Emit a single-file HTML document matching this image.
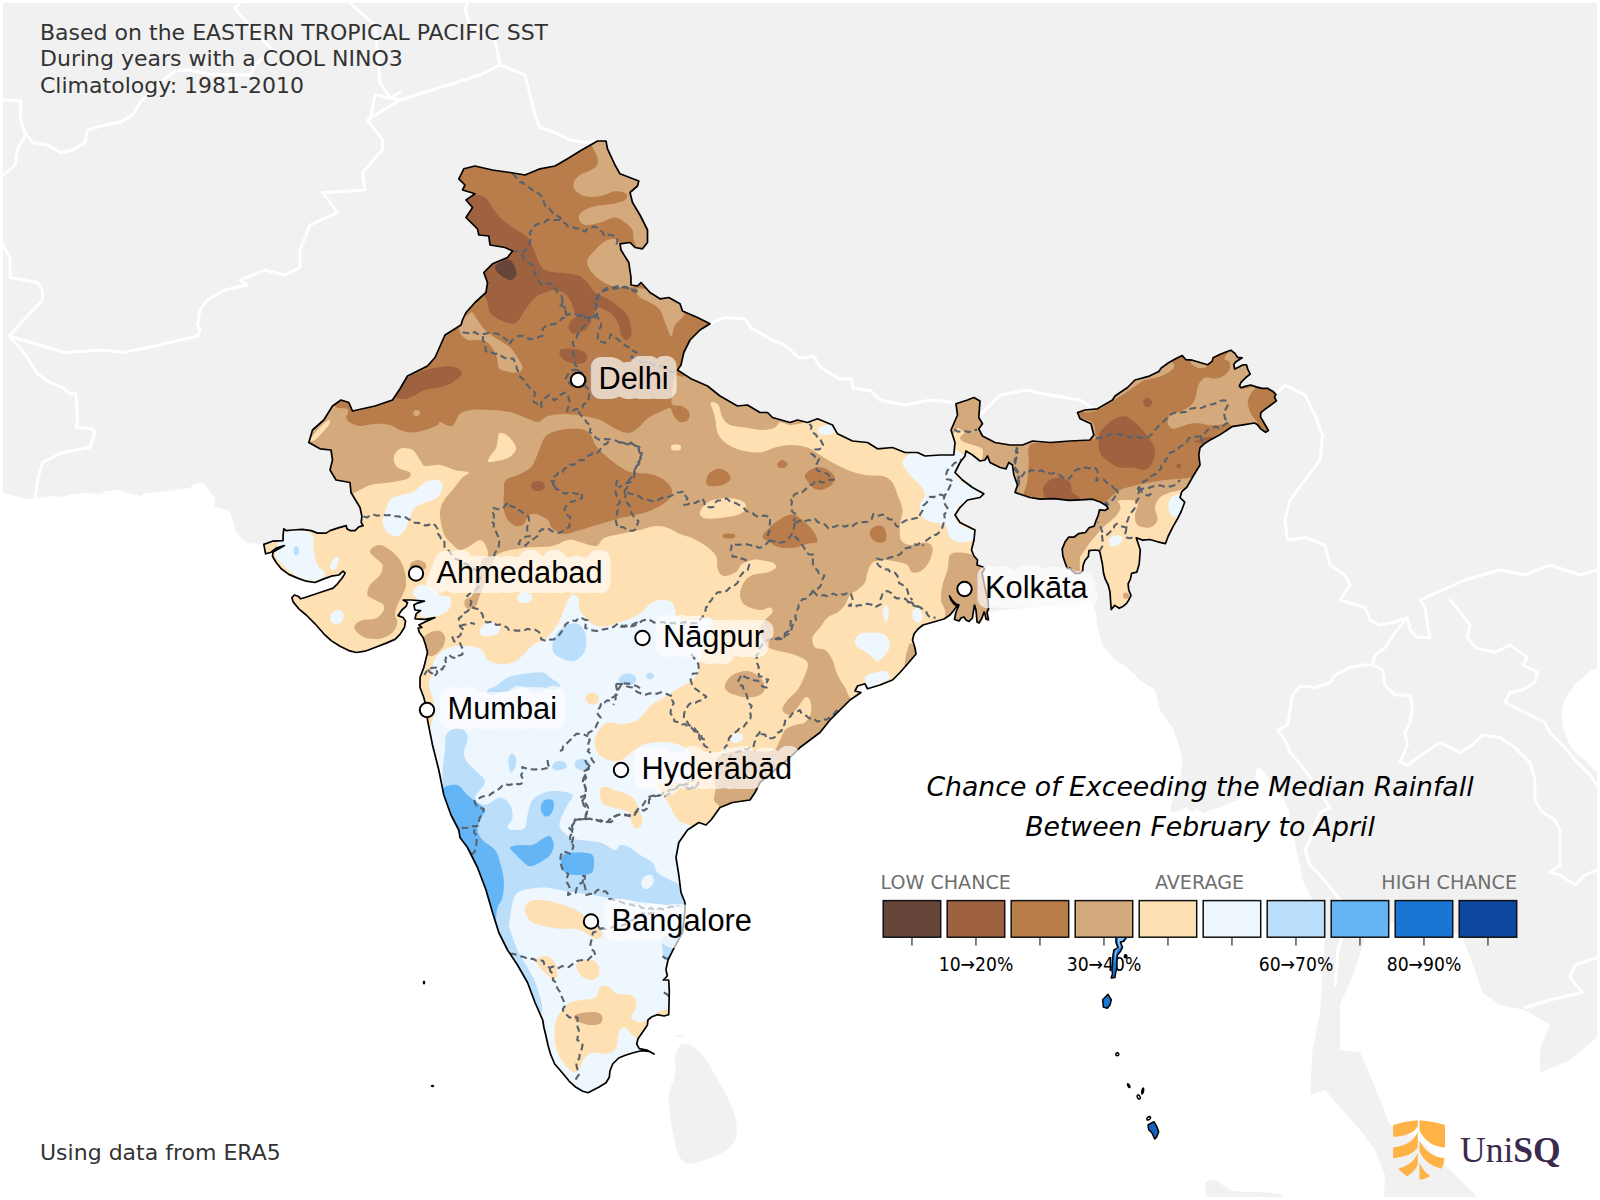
<!DOCTYPE html><html><head><meta charset="utf-8"><title>Chance of Exceeding the Median Rainfall</title>
<style>html,body{margin:0;padding:0;background:#fff}svg{display:block}text{font-family:"DejaVu Sans","Liberation Sans",sans-serif}.city{font-family:"DejaVu Sans","Liberation Sans",sans-serif;font-size:27px;fill:#000}</style></head><body>
<svg width="1600" height="1200" viewBox="0 0 1600 1200">
<defs><clipPath id="ic"><path d="M463.8 168.8 L475 166 L492.5 170 L510 172.5 L525 175 L540 168.8 L555 166 L567.5 158.8 L580 151 L597.5 141 L606 141 L607.5 148.8 L615 165 L620 173.8 L638.8 181 L637.5 186 L630 192.5 L632.5 202.5 L640 215 L643.8 222.5 L647.5 230 L647.5 242.5 L642.5 248.8 L635 247.5 L630 242.5 L620 243.8 L621 250 L628.8 262.5 L631 277.5 L631 285 L637.5 286 L641 282.5 L650 292.5 L660 298.8 L668.8 297.5 L680 303.8 L682.5 311 L697.5 317.5 L710 323.8 L700 330 L690 340 L683.8 352.5 L681 365 L677.5 370 L691 378.8 L707.5 386 L720 396 L737.5 406 L747.5 405 L760 412.5 L767.5 412.5 L772.5 417.5 L790 422.5 L797.5 420 L807.5 422.5 L817.5 418.8 L832.5 425 L837.5 433.8 L852.5 441 L867.5 442.5 L877.5 448.8 L892.5 447.5 L905 452.5 L917.5 452.5 L925 456 L940 455 L953.8 455 L955 442.5 L951 430 L957.5 415 L956 403.8 L967.5 400 L973.8 397.5 L980 401 L978.8 417.5 L982.5 423.8 L978.8 428.8 L982.5 436 L995 442.5 L1010 445 L1022.5 445 L1032.5 441 L1050 442.5 L1070 441 L1090 440 L1093.8 435 L1091 423.8 L1080 418.8 L1077.5 412.5 L1085 410 L1097.5 408.8 L1112.5 400 L1115 396 L1127.5 387.5 L1135 380 L1149.4 376.1 L1158.8 371.4 L1161.1 368.1 L1168.1 363 L1175.6 358.8 L1182.2 355.5 L1185.9 359.7 L1192.5 360.2 L1200 362.5 L1207.5 364.8 L1212.2 361.1 L1213.1 357.8 L1219.7 354.5 L1225.3 352.2 L1230.9 350.3 L1234.7 353.1 L1237.5 357.3 L1242.2 357.8 L1235.6 362 L1233.8 364.4 L1234.7 369.1 L1238.4 367.2 L1243.1 364.8 L1246.4 364.8 L1247.8 369.1 L1250.2 374.2 L1245.9 377.5 L1241.2 382.2 L1239.4 385.9 L1241.2 387.8 L1245 386.4 L1250.6 385 L1256.2 386.9 L1261.9 388.3 L1267.5 388.3 L1273.1 391.6 L1275.9 394.4 L1274.5 397.2 L1276.4 400.9 L1271.2 404.7 L1265.6 408.9 L1260.9 412.7 L1260.5 416.9 L1263.8 422.5 L1268.4 430.5 L1265.6 432.3 L1260.9 429.1 L1257.2 424.4 L1254.4 423 L1243.1 424.8 L1231.9 426.7 L1227.2 430 L1219.7 434.7 L1211.2 439.4 L1203.8 444.1 L1200 447.8 L1198.8 455 L1200 465 L1193.8 475 L1187 487 L1181.8 491.7 L1180 497.5 L1184.7 502.2 L1181.2 511.5 L1177.7 518.5 L1173 526.7 L1168.3 536 L1165.4 543.6 L1157.8 541.8 L1149.7 539.5 L1142.7 540.1 L1136.2 537.8 L1138 543 L1140.3 550 L1139.2 564 L1136.8 572.2 L1131.6 573.3 L1130.4 579.2 L1128.1 583.8 L1128.7 589.7 L1131 595.5 L1128.7 600.2 L1126.3 603.7 L1122.8 606.6 L1119.3 608.3 L1114.7 605.4 L1111.2 609.5 L1110.6 601.3 L1110 592 L1108.2 585 L1105.3 579.2 L1103.6 573.3 L1102.4 564 L1100.7 555.8 L1099.5 550.6 L1094.8 550 L1089 550.6 L1088.4 556.4 L1084.9 560.5 L1083.2 565.2 L1082.6 571 L1079.7 573.3 L1075 573.3 L1071.5 569.8 L1069.8 568.1 L1067.4 568.7 L1065.1 562.8 L1062.8 555.8 L1062.2 548.8 L1065.1 541.8 L1068.6 537.2 L1073.8 537.2 L1078.5 533.7 L1085.5 532.5 L1089 527.8 L1094.2 526.1 L1096 520.8 L1098.3 515 L1099.5 509.8 L1105.3 510.3 L1108.2 508.6 L1106.5 505.7 L1100.7 502.2 L1092.5 499.2 L1080.8 499.8 L1069.2 500.4 L1054 498.7 L1040 499.2 L1030 497.5 L1015 492.5 L1017.5 485 L1013.8 475 L1012.5 465 L1008.8 462.5 L1006 468.8 L1000 467.5 L990 462.5 L987.5 456 L985 460 L980 461 L972.5 455 L966 451 L965 456 L960 462.5 L955 472.5 L962.5 480 L972.5 487.5 L983.8 493.8 L980 497.5 L967.5 500 L960 507.5 L955 515 L960 522.5 L975 530 L974 540 L971.5 550 L974 556 L977.5 560 L977 565 L983 567 L984.5 569 L982 573 L985 588 L988 600 L988.5 609 L987 612 L988.5 620 L986 619 L985 614 L984 612 L982 618 L979 623 L977 622 L976 610 L974.5 605 L973 614 L972.5 618 L969 621.5 L966 620 L964 617 L961 618 L959 621 L954.5 619.5 L956 612 L959 605 L956 604 L952 600 L949.5 596 L951 600 L954 604 L957 606 L954 610 L950 615 L944 619 L937 621 L930 623 L923 625 L918 629 L914 634 L912.5 640 L915 648 L916 654 L908.8 662.5 L900 672.5 L892.5 680 L880 685 L867.5 688.8 L865 683.8 L857.5 686 L855 691 L861 692.5 L850 700 L840 710 L830 720 L820 732.5 L810 740 L800 747.5 L790 757.5 L775 770 L760 782.5 L755 792.5 L750 800 L732.5 802.5 L720 807.5 L711 820 L706 825 L698.8 822.5 L687.5 830 L678.8 842.5 L676 857.5 L678.8 875 L681 892.5 L685 902.5 L685 910 L682.5 932.5 L673.3 949.3 L668 960 L666 969.3 L667.3 976 L663.3 980 L668.7 980 L669.3 990.7 L669 1004 L668.7 1014.7 L664 1016 L657.3 1014.7 L652 1016.7 L648 1020 L647.3 1025.3 L642.7 1032 L638 1038.7 L636.7 1044 L639.3 1048.7 L646.7 1050 L654 1054 L649.3 1051.3 L641.3 1050.7 L633.3 1052.7 L625.3 1055.3 L618.7 1058 L612.7 1064 L610 1070.7 L609.3 1077.3 L606 1082.7 L598.7 1087.3 L593.3 1090 L588 1092.7 L582.7 1091.3 L576 1087.3 L569.3 1081.3 L562.7 1073.3 L554.7 1064 L550.7 1054.7 L548 1045.3 L546 1036 L544 1028 L542.7 1020 L535 1002.5 L527.5 982.5 L517.5 965 L507.5 950 L498.8 932.5 L492.5 912.5 L486 890 L477.5 867.5 L467.5 847.5 L460 837.5 L458.8 830 L451 815 L443.8 795 L438.8 770 L432.5 745 L427.5 720 L427 710 L423.8 697.5 L420 687.5 L420 677.5 L423.8 667.5 L427.5 652.5 L425.6 645 L423.1 637.5 L419.4 632.5 L418.1 628.1 L421.9 627.5 L418.8 625 L425 621.9 L435 617.5 L425 619.4 L415 618.8 L416.2 613.8 L420.6 610.6 L415 610 L413.8 605 L417.5 603.1 L424.4 601.2 L411.2 600 L403.1 600 L407.5 602.5 L406.2 606.2 L401.9 610 L398.1 615.6 L403.1 617.5 L405.6 621.2 L404.4 627.5 L400 634.4 L395 639.4 L386.2 643.1 L375 647.5 L365 651.2 L356.2 652.5 L348.8 650.6 L340 646.2 L331.2 640.6 L323.8 633.8 L315 623.8 L306.2 615 L298.8 608.8 L293.1 601.9 L291.9 597.5 L294.4 595 L298.1 596.2 L300.6 598.8 L305 597.5 L312.5 595 L320 592.5 L327.5 590 L333.1 588.1 L337.5 583.8 L342.5 577.5 L345.2 573.1 L343.1 571.2 L338.8 575 L331.2 576.2 L322.5 579.4 L315 582.5 L306.2 581.2 L297.5 578.1 L288.8 574.4 L281.2 568.8 L276.2 562.5 L272.5 556.2 L273.1 551.9 L278.8 548.8 L284.4 545.6 L276.2 548.1 L270.6 552.5 L265.6 553.8 L263.8 544.4 L272.5 541.2 L283.1 540.6 L283.1 535 L283.8 528.8 L286.2 530.6 L292.5 530 L302.5 529.4 L311.2 530.6 L317.5 533.1 L326.2 533.1 L330 530.6 L337.5 528.1 L346.2 525.6 L346.9 528.8 L350 530.6 L355 530.6 L358.8 526.9 L363.1 525.6 L361.2 522.5 L361.9 516.2 L360 507.5 L351 492.5 L350 482.5 L336 480 L330 470 L332.5 460 L331 450 L320 448.8 L308.8 442.5 L312.5 430 L323.8 420 L332.5 406 L341 400 L348.8 402.5 L352.5 411 L375 406 L392.5 400 L400 388.8 L407.5 376 L427.5 366 L435 357.5 L445 335 L461 325 L462.5 320 L466 312.5 L475 302.5 L486 292.5 L487.5 282.5 L483.8 272.5 L492.5 263.8 L507.5 257.5 L512.5 251 L505 247.5 L490 245 L488.8 236 L478.8 235 L477.5 228.8 L466 217.5 L472.5 207.5 L466 200 L475 193.8 L462.5 190 L465 185 L458.8 178.8Z"/></clipPath></defs>
<rect width="1600" height="1200" fill="#fff"/>
<g fill="#f1f1f1">
<path d="M0 0 L1600 0 L1600 1035 L1570 1060 L1540 1072.5 L1540 1050 L1550 1025 L1525 1010 L1500 1005 L1482.5 992.5 L1475 970 L1462.5 937.5 L1440 925 L1400 922 L1375 925 L1365 937.5 L1355 970 L1340 1005 L1340 1050 L1360 1052.5 L1370 1075 L1380 1100 L1390 1125 L1425 1145 L1450 1170 L1480 1200 L1384 1200 L1385 1175 L1375 1150 L1360 1130 L1340 1107.5 L1325 1090 L1310 1095 L1312.5 1050 L1320 1012.5 L1322.5 975 L1325 937.5 L1315 905 L1302.5 880 L1300 865 L1296 848.8 L1293.8 836 L1290 822.5 L1288.8 810 L1283.8 800 L1277.5 790 L1270 780 L1262.5 770 L1257.5 767.5 L1255 777.5 L1248.8 788.8 L1242.5 797.5 L1235 801 L1227.5 803.8 L1220 807.5 L1210 810 L1205 813.8 L1196 808.8 L1192.5 812.5 L1186 807.5 L1177.5 811 L1170 812.5 L1172.5 800 L1177.5 786 L1181 774 L1182.5 761 L1178.8 745 L1173.8 730 L1160 710 L1155 690 L1140 680 L1127.5 667.5 L1115 660 L1102.5 645 L1097.5 627.5 L1096 612.5 L1092.5 603.8 L1062.5 605 L1032.5 607.5 L1000 610 L987.5 612.5 L900 620 L600 650 L430 575 L300 540 L266 545 L260 544 L248 543 L242 539 L236 532 L233 522 L230 512 L224 509 L214 507 L215 498 L210 492 L206 485 L200 482.4 L194 484 L190 488 L176 490 L160 492 L146 493 L140 496 L128 493 L120 490 L106 491 L100 494 L86 493 L72 494 L62 497 L54 496 L40 498 L28 499 L3 493 L0 493Z"/>
<path d="M679 1047C679.8 1046 680.2 1044.3 682 1044C683.8 1043.7 686.6 1043.2 690 1045C693.4 1046.8 698.3 1050 702.5 1055C706.7 1060 710.8 1067.9 715 1075C719.2 1082.1 724 1090 727.5 1097.5C731 1105 734.8 1112.9 736 1120C737.2 1127.1 737.2 1134.6 735 1140C732.8 1145.4 727.5 1149.2 722.5 1152.5C717.5 1155.8 710.4 1158.1 705 1160C699.6 1161.9 694.2 1164.2 690 1163.8C685.8 1163.3 682.7 1161.9 680 1157.5C677.3 1153.1 675.4 1145 673.8 1137.5C672.1 1130 670.8 1119.6 670 1112.5C669.2 1105.4 667.9 1101.2 668.8 1095C669.6 1088.8 674 1080.8 675 1075C676 1069.2 674.6 1064.2 675 1060C675.4 1055.8 676.8 1052.2 677.5 1050C678.2 1047.8 678.2 1048 679 1047Z"/>
<path d="M1206 1200 L1205 1183 L1209 1180 L1216 1180 L1224 1186 L1232 1191 L1245 1192 L1258 1192 L1270 1193 L1280 1194 L1286 1200Z"/>
<path d="M676 1034.5 L683 1035.5 L683 1037 L676 1036.5Z"/>
</g>
<path d="M1600 675C1596.7 660.8 1585.8 675.8 1580 680C1574.2 684.2 1568 693.3 1565 700C1562 706.7 1561.2 712.5 1562 720C1562.8 727.5 1566.2 738.3 1570 745C1573.8 751.7 1580 756.7 1585 760C1590 763.3 1597.5 779.2 1600 765C1602.5 750.8 1603.3 689.2 1600 675Z" fill="#fff"/>
<g fill="none" stroke="#fff" stroke-width="2.9" stroke-linejoin="round" stroke-linecap="round">
<path d="M3 100 L21 101 L20 117.5 L25 132.5 L32.5 142.5 L47.5 145 L60 152.5 L72.5 150 L85 142.5 L87.5 130 L105 125 L120 122.5 L132.5 115 L140 102.5 L155 87 L175 71 L190 70 L207.5 74 L250 75 L255 65 L272.5 50 L265 42.5 L240 15 L235 7.5 L240 3"/>
<path d="M25 135 L17.5 150 L15 165 L3 175"/>
<path d="M3 245 L10 257.5 L10 277.5 L37.5 282.5 L42.5 290 L42.5 300 L8.8 336 L65 352.5 L102.5 350 L122.5 352.5 L155 346 L197.5 336 L200 330 L197.5 325 L200 310 L207.5 300 L225 290 L247.5 285 L240 280 L265 270 L285 275 L300 267.5 L300 250 L310 225 L337.5 212.5 L322.5 192.5 L365 190 L362.5 172.5 L382.5 150 L382.5 140 L367.5 120 L387.5 107.5 L400 100 L375 95 L370 120"/>
<path d="M8.8 336 L25 353.8 L37.5 373.8 L50 382.5 L62.5 387.5 L70 393.8 L76 393.8 L77.5 420 L76 427.5 L92.5 428.8 L95 432.5 L90 447.5 L62.5 452.5 L42.5 462.5 L37.5 480 L35 497.5"/>
<path d="M400 100 L480 75 L500 65 L495 40 L470 25 L465 10 L467 3"/>
<path d="M350 3 L375 25 L380 82.5 L390 97.5 L400 92.5"/>
<path d="M500 65 L525 75 L535 115 L540 127.5 L555 132.5 L570 140 L585 142.5 L597.5 141"/>
<path d="M710 324 L716 321 L724 317.5 L745 319 L751 328 L772 340 L784 344.5 L799 358 L814 356.5 L820 367 L839.5 379 L851.5 379 L853 388 L871 391 L880 400 L905 405 L930 400 L955 402.5"/>
<path d="M980 415 L1000 395 L1025 390 L1050 395 L1080 400 L1095 410"/>
<path d="M1275 395 L1285 385 L1305 395 L1315 415 L1322.5 435 L1320 460 L1305 480 L1290 500 L1285 520 L1287.5 540 L1305 537.5 L1325 545 L1330 565 L1345 575 L1350 585 L1340 600 L1365 607.5 L1370 620 L1380 625 L1395 622 L1407.5 617.5"/>
<path d="M1420 600 L1465 580 L1500 570 L1525 575 L1550 565 L1580 575 L1597 570"/>
<path d="M1407.5 617.5 L1410 630 L1417.5 637.5 L1430 637.5 L1427.5 625 L1425 607.5 L1420 600"/>
<path d="M1407.5 617.5 L1395 632.5 L1385 647.5 L1375 655 L1372.5 665 L1362.5 665 L1350 667.5 L1335 675 L1330 682.5 L1315 687.5 L1300 686 L1292.5 695 L1290 710 L1287.5 725 L1277.5 730 L1285 740 L1290 752.5 L1305 770 L1315 785 L1325 800 L1330 807.5 L1320 812.5 L1315 825 L1310 840 L1305 850 L1310 865 L1320 875 L1330 887.5 L1340 900 L1345 925 L1338 950 L1335 985"/>
<path d="M1372.5 665 L1382.5 670 L1385 685 L1395 695 L1410 695 L1412.5 707.5 L1410 722.5 L1405 732.5 L1407.5 745 L1400 762.5 L1407.5 765 L1425 752.5 L1440 742.5 L1460 752.5 L1472.5 745 L1482.5 735 L1500 737.5 L1515 747.5 L1530 762.5 L1535 780 L1535 800 L1542.5 812.5 L1555 820 L1560 830 L1560 850 L1560 865 L1550 872.5 L1560 875 L1575 885 L1585 875 L1597 870"/>
<path d="M1450 600 L1462.5 615 L1470 625 L1467.5 637.5 L1475 647.5 L1495 652.5 L1510 645 L1527.5 657.5 L1522.5 665 L1537.5 672.5 L1535 682.5 L1522.5 690 L1510 692.5 L1505 702.5 L1525 712.5 L1545 722.5 L1550 732.5 L1562.5 745 L1575 760 L1590 775 L1597 785"/>
<path d="M1597.5 957.5 L1575 965 L1570 977.5 L1582.5 992.5 L1550 1000 L1525 1007.5"/>
</g>
<g clip-path="url(#ic)">
<rect x="250" y="130" width="1040" height="980" fill="#ffe0b2"/>
<path d="M410 672C414.3 667.7 422 676 426 674C430 672 431 664 434 660C437 656 440.3 652.3 444 650C447.7 647.7 451.7 646.7 456 646C460.3 645.3 465.7 645.3 470 646C474.3 646.7 479 647.7 482 650C485 652.3 485 657.7 488 660C491 662.3 495.7 663.7 500 664C504.3 664.3 510 663.7 514 662C518 660.3 520.7 657 524 654C527.3 651 530.7 646.3 534 644C537.3 641.7 541 642 544 640C547 638 549.3 635.3 552 632C554.7 628.7 557.7 624.7 560 620C562.3 615.3 564 608.2 566 604C568 599.8 570 596 572 595C574 594 576.7 595.5 578 598C579.3 600.5 578.7 606.7 580 610C581.3 613.3 583.3 615.3 586 618C588.7 620.7 592.3 624.7 596 626C599.7 627.3 604 626.7 608 626C612 625.3 616 623.3 620 622C624 620.7 628.3 619.7 632 618C635.7 616.3 639 614.3 642 612C645 609.7 647 606 650 604C653 602 656.3 600.3 660 600C663.7 599.7 669.5 600.3 672 602C674.5 603.7 674 607.3 675 610C676 612.7 674.7 616.3 678 618C681.3 619.7 689.7 620.1 695 620C700.3 619.9 707.2 615.8 710 617.5C712.8 619.2 713.3 624.6 712 630C710.7 635.4 704 644.5 702 650C700 655.5 700.6 658.9 699.7 663C698.9 667.1 698.6 671.2 696.9 674.4C695.2 677.5 692.8 679.4 689.4 681.9C686 684.4 680.3 686.9 676.2 689.4C672.2 691.9 669.1 694.4 665 696.9C660.9 699.4 655.6 701.3 651.9 704.4C648.1 707.5 645.3 712.8 642.5 715.6C639.7 718.4 638.4 719.9 635 721.2C631.6 722.6 626.6 723.7 621.9 724C617.2 724.3 611 721.6 606.9 723C602.8 724.4 599.5 729 597.5 732.5C595.5 736 594.4 740 594.7 743.8C595 747.5 596.8 752.2 599.4 755C602 757.8 606.9 759.8 610.6 760.6C614.4 761.4 617.8 761.6 621.9 759.7C626 757.8 630.9 752.1 635 749.4C639.1 746.7 641.9 745 646.2 743.8C650.6 742.5 656.2 741.9 661.2 741.9C666.2 741.9 671.6 742.2 676.2 743.8C680.9 745.3 686.4 747.5 689.4 751.2C692.4 755 693.7 761.6 694 766.2C694.3 770.9 694.2 776.6 691.2 779.4C688.3 782.2 681.9 782.2 676.2 783C670.6 783.8 659.8 782.1 657.5 784C655.2 785.9 660.3 791.1 662.2 794.4C664.1 797.7 666.7 800.3 668.8 803.8C670.8 807.2 672.2 811.9 674.4 815C676.6 818.1 679.4 820.8 681.9 822.5C684.4 824.2 686.9 823 689.4 825.3C691.9 827.5 690.2 823.5 697 836C703.8 848.5 729.5 854.3 730 900C730.5 945.7 728.3 1075 700 1110C671.7 1145 610 1178.3 560 1110C510 1041.7 425 773 400 700C375 627 405.7 676.3 410 672Z" fill="#eef6fe"/>
<path d="M902.5 462.5C902.5 459 906.2 455.8 910 453.8C913.8 451.7 917.5 450.6 925 450C932.5 449.4 948.3 448.3 955 450C961.7 451.7 965 456.2 965 460C965 463.8 955.8 469.2 955 472.5C954.2 475.8 957.1 477.5 960 480C962.9 482.5 968.1 485 972.5 487.5C976.9 490 985.8 492.9 986.2 495C986.7 497.1 979.4 498.3 975 500C970.6 501.7 963.3 502.5 960 505C956.7 507.5 955 511.7 955 515C955 518.3 956.2 522.1 960 525C963.8 527.9 975.4 530 977.5 532.5C979.6 535 975.4 538.3 972.5 540C969.6 541.7 963.8 542.9 960 542.5C956.2 542.1 952.5 540.4 950 537.5C947.5 534.6 947.9 527.5 945 525C942.1 522.5 936.2 523.8 932.5 522.5C928.8 521.2 924.6 520.4 922.5 517.5C920.4 514.6 919.6 508.8 920 505C920.4 501.2 925 498.3 925 495C925 491.7 922.5 488.3 920 485C917.5 481.7 912.9 478.8 910 475C907.1 471.2 902.5 466 902.5 462.5Z" fill="#eef6fe"/>
<path d="M817.5 431.2C817.1 429.8 820 427.3 822.5 426.2C825 425.2 830.6 424 832.5 425C834.4 426 835 430.8 833.8 432.5C832.5 434.2 827.7 435.2 825 435C822.3 434.8 817.9 432.7 817.5 431.2Z" fill="#eef6fe"/>
<path d="M412.5 592.5C412.9 590 417.1 585.8 420 585C422.9 584.2 426.7 585.8 430 587.5C433.3 589.2 436.7 593.3 440 595C443.3 596.7 448.3 595.4 450 597.5C451.7 599.6 451.7 604.6 450 607.5C448.3 610.4 444.2 613.3 440 615C435.8 616.7 429.2 618.3 425 617.5C420.8 616.7 416.2 612.9 415 610C413.8 607.1 417.9 602.9 417.5 600C417.1 597.1 412.1 595 412.5 592.5Z" fill="#eef6fe"/>
<path d="M517.5 597.5C517.9 595.8 520.4 593.1 522.5 592.5C524.6 591.9 528.3 592.7 530 593.8C531.7 594.8 532.9 597.3 532.5 598.8C532.1 600.2 529.6 601.9 527.5 602.5C525.4 603.1 521.7 603.3 520 602.5C518.3 601.7 517.1 599.2 517.5 597.5Z" fill="#eef6fe"/>
<path d="M480 630C480.6 628.1 482.5 625 485 623.8C487.5 622.5 492.5 621.9 495 622.5C497.5 623.1 499.6 625.6 500 627.5C500.4 629.4 499.6 632.3 497.5 633.8C495.4 635.2 490.2 636 487.5 636.2C484.8 636.5 482.5 636 481.2 635C480 634 479.4 631.9 480 630Z" fill="#eef6fe"/>
<path d="M282.5 527.5C286.2 525 295 528.8 300 530C305 531.2 310.2 531.7 312.5 535C314.8 538.3 312.9 545 313.8 550C314.6 555 315.6 561.2 317.5 565C319.4 568.8 324.6 570 325 572.5C325.4 575 322.9 578.8 320 580C317.1 581.2 311.7 580.8 307.5 580C303.3 579.2 299.2 577.5 295 575C290.8 572.5 285.8 568.3 282.5 565C279.2 561.7 275.8 558.3 275 555C274.2 551.7 276.2 549.6 277.5 545C278.8 540.4 278.8 530 282.5 527.5Z" fill="#eef6fe"/>
<path d="M330 567.5C330 565.6 332.3 560.4 333.8 558.8C335.2 557.1 338.1 556.5 338.8 557.5C339.4 558.5 338.3 562.9 337.5 565C336.7 567.1 335 569.6 333.8 570C332.5 570.4 330 569.4 330 567.5Z" fill="#eef6fe"/>
<path d="M330 617.5C330 615.4 332.1 612.5 333.8 611.2C335.4 610 338.3 609.4 340 610C341.7 610.6 343.5 612.9 343.8 615C344 617.1 342.9 621 341.2 622.5C339.6 624 335.6 624.6 333.8 623.8C331.9 622.9 330 619.6 330 617.5Z" fill="#eef6fe"/>
<path d="M385 512.5C386.2 508.8 387.5 502.9 390 500C392.5 497.1 396.2 496.2 400 495C403.8 493.8 408.3 494.6 412.5 492.5C416.7 490.4 420.8 484.6 425 482.5C429.2 480.4 434.6 479.4 437.5 480C440.4 480.6 442.5 483.3 442.5 486.2C442.5 489.2 440.4 494.8 437.5 497.5C434.6 500.2 428.8 500.8 425 502.5C421.2 504.2 417.5 505 415 507.5C412.5 510 411.7 513.8 410 517.5C408.3 521.2 407.1 526.9 405 530C402.9 533.1 400.4 535.8 397.5 536.2C394.6 536.7 390 534.8 387.5 532.5C385 530.2 382.9 525.8 382.5 522.5C382.1 519.2 383.8 516.2 385 512.5Z" fill="#eef6fe"/>
<path d="M855 640C855.6 637.9 857.1 635 860 633.8C862.9 632.5 868.3 632.3 872.5 632.5C876.7 632.7 882.1 632.9 885 635C887.9 637.1 890 641.7 890 645C890 648.3 887.1 652.3 885 655C882.9 657.7 880 661.2 877.5 661.2C875 661.2 872.5 656.9 870 655C867.5 653.1 864.8 651.5 862.5 650C860.2 648.5 857.5 647.9 856.2 646.2C855 644.6 854.4 642.1 855 640Z" fill="#eef6fe"/>
<path d="M865 677.5C866 674.8 871.7 673.5 875 672.5C878.3 671.5 882.5 670.4 885 671.2C887.5 672.1 890.8 675.4 890 677.5C889.2 679.6 883.5 681.9 880 683.8C876.5 685.6 871.2 689.8 868.8 688.8C866.2 687.7 864 680.2 865 677.5Z" fill="#eef6fe"/>
<path d="M882.5 610C882.9 607.9 885.2 604.6 886.2 605C887.3 605.4 888.8 609.6 888.8 612.5C888.8 615.4 887.1 621.7 886.2 622.5C885.4 623.3 884.4 619.6 883.8 617.5C883.1 615.4 882.1 612.1 882.5 610Z" fill="#eef6fe"/>
<path d="M912.5 612.5C913.1 610.4 915.8 607.1 917.5 607.5C919.2 607.9 922.1 612.5 922.5 615C922.9 617.5 921.5 621.7 920 622.5C918.5 623.3 915 621.7 913.8 620C912.5 618.3 911.9 614.6 912.5 612.5Z" fill="#eef6fe"/>
<path d="M1108.8 540C1109 538.3 1110.6 537 1112.5 536.2C1114.4 535.5 1118.3 534.9 1120 535.5C1121.7 536.1 1122.9 538.4 1122.5 540C1122.1 541.6 1119.4 544 1117.5 545C1115.6 546 1112.7 547.1 1111.2 546.2C1109.8 545.4 1108.5 541.7 1108.8 540Z" fill="#eef6fe"/>
<path d="M1168.8 502.5C1169.4 500.2 1170.6 497.5 1172.5 496.2C1174.4 495 1177.5 494.4 1180 495C1182.5 495.6 1187.5 496.7 1187.5 500C1187.5 503.3 1182.5 512.3 1180 515C1177.5 517.7 1174.4 517.1 1172.5 516.2C1170.6 515.4 1169.4 512.3 1168.8 510C1168.1 507.7 1168.1 504.8 1168.8 502.5Z" fill="#eef6fe"/>
<path d="M730.6 738.1C731.2 736.7 733.4 734.1 735.3 733.4C737.2 732.8 740.6 733.4 741.9 734.4C743.1 735.3 743.6 737.7 742.8 739.1C742 740.5 739.1 742.3 737.2 742.8C735.3 743.3 732.7 742.7 731.6 741.9C730.5 741.1 730 739.5 730.6 738.1Z" fill="#eef6fe"/>
<path d="M600.3 788.8C601.4 787.2 604.2 786.6 606.9 786.9C609.5 787.2 612.8 789.4 616.2 790.6C619.7 791.9 624.4 792.8 627.5 794.4C630.6 795.9 633.1 797.5 635 800C636.9 802.5 637.5 806.2 638.8 809.4C640 812.5 642.2 815.9 642.5 818.8C642.8 821.6 641.9 824.7 640.6 826.2C639.4 827.8 636.6 829.1 635 828.1C633.4 827.2 632.2 823.1 631.2 820.6C630.3 818.1 630.9 815 629.4 813.1C627.8 811.2 624.7 810.3 621.9 809.4C619.1 808.4 615.6 808.4 612.5 807.5C609.4 806.6 605.2 805.6 603.1 803.8C601.1 801.9 600.8 798.8 600.3 796.2C599.8 793.8 599.2 790.3 600.3 788.8Z" fill="#ffe0b2"/>
<path d="M585.3 698.8C585 697 586.6 695 588.1 694.1C589.7 693.1 592.9 692.5 594.7 693.1C596.5 693.8 598.7 696.1 599 697.8C599.3 699.5 598.1 702.3 596.6 703.4C595.1 704.5 591.9 705.2 590 704.4C588.1 703.6 585.6 700.5 585.3 698.8Z" fill="#ffe0b2"/>
<path d="M420 660C422.5 657.5 430.6 657.5 432.5 660C434.4 662.5 431.9 670.8 431.2 675C430.6 679.2 428.5 681.2 428.8 685C429 688.8 431.5 693.3 432.5 697.5C433.5 701.7 435 706.2 435 710C435 713.8 433.5 717.3 432.5 720C431.5 722.7 431.2 731.2 428.8 726.2C426.2 721.2 419.4 698.5 417.5 690C415.6 681.5 417.1 680 417.5 675C417.9 670 417.5 662.5 420 660Z" fill="#ffe0b2"/>
<path d="M525 907.5C525.6 905.2 527.5 902.5 530 901.2C532.5 900 535.8 899.8 540 900C544.2 900.2 550 901.2 555 902.5C560 903.8 565.8 905.8 570 907.5C574.2 909.2 576.7 910.4 580 912.5C583.3 914.6 586.7 917.1 590 920C593.3 922.9 597.9 927.3 600 930C602.1 932.7 603.3 934.8 602.5 936.2C601.7 937.7 597.9 939.4 595 938.8C592.1 938.1 588.3 934.2 585 932.5C581.7 930.8 579.2 929.4 575 928.8C570.8 928.1 565 929.2 560 928.8C555 928.3 549.6 927.3 545 926.2C540.4 925.2 535.6 924.4 532.5 922.5C529.4 920.6 527.5 917.5 526.2 915C525 912.5 524.4 909.8 525 907.5Z" fill="#ffe0b2"/>
<path d="M536.2 960C536.7 958.1 540.2 956.7 542.5 956.2C544.8 955.8 547.7 956 550 957.5C552.3 959 555 962.1 556.2 965C557.5 967.9 557.9 972.5 557.5 975C557.1 977.5 555.4 980 553.8 980C552.1 980 549.8 977.1 547.5 975C545.2 972.9 541.9 970 540 967.5C538.1 965 535.8 961.9 536.2 960Z" fill="#ffe0b2"/>
<path d="M576.2 965C576.9 962.9 579.8 960.8 582.5 960C585.2 959.2 589.8 959 592.5 960C595.2 961 597.7 963.8 598.8 966.2C599.8 968.8 599.8 972.7 598.8 975C597.7 977.3 595 979.6 592.5 980C590 980.4 586 978.8 583.8 977.5C581.5 976.2 580 974.6 578.8 972.5C577.5 970.4 575.6 967.1 576.2 965Z" fill="#ffe0b2"/>
<path d="M555 1025C555.8 1020 557.5 1016.2 560 1012.5C562.5 1008.8 566.2 1004.6 570 1002.5C573.8 1000.4 578.3 1000.8 582.5 1000C586.7 999.2 592.1 999.6 595 997.5C597.9 995.4 597.9 989.4 600 987.5C602.1 985.6 604.6 985.2 607.5 986.2C610.4 987.3 613.8 992.3 617.5 993.8C621.2 995.2 626.9 994 630 995C633.1 996 635.4 997.5 636.2 1000C637.1 1002.5 635.8 1007.1 635 1010C634.2 1012.9 630.4 1015.4 631.2 1017.5C632.1 1019.6 636.9 1022.5 640 1022.5C643.1 1022.5 646.7 1019.4 650 1017.5C653.3 1015.6 656.5 1012.5 660 1011.2C663.5 1010 669.4 1009 671.2 1010C673.1 1011 674.4 1015.8 671.2 1017.5C668.1 1019.2 656.5 1017.9 652.5 1020C648.5 1022.1 649.6 1026.7 647.5 1030C645.4 1033.3 642.5 1039.2 640 1040C637.5 1040.8 635 1037.1 632.5 1035C630 1032.9 627.1 1028.3 625 1027.5C622.9 1026.7 621.2 1027.9 620 1030C618.8 1032.1 618.3 1036.7 617.5 1040C616.7 1043.3 617.1 1047.7 615 1050C612.9 1052.3 608.8 1053.3 605 1053.8C601.2 1054.2 595.8 1051.9 592.5 1052.5C589.2 1053.1 587.1 1055 585 1057.5C582.9 1060 581.7 1065 580 1067.5C578.3 1070 577.1 1072.5 575 1072.5C572.9 1072.5 570 1070 567.5 1067.5C565 1065 562.1 1061.7 560 1057.5C557.9 1053.3 555.8 1047.9 555 1042.5C554.2 1037.1 554.2 1030 555 1025Z" fill="#ffe0b2"/>
<path d="M440 130C476.7 101.7 611.7 98.3 660 130C708.3 161.7 723.3 277.5 730 320C736.7 362.5 704.2 373 700 385C695.8 397 703.3 389.1 705 392C706.7 394.9 708.3 398.2 710 402.5C711.7 406.8 713.8 412.5 715 417.5C716.2 422.5 715.8 428.3 717.5 432.5C719.2 436.7 721.2 439.6 725 442.5C728.8 445.4 734.2 448.3 740 450C745.8 451.7 754.2 452.9 760 452.5C765.8 452.1 770 448.8 775 447.5C780 446.2 784.6 445 790 445C795.4 445 802.5 445.8 807.5 447.5C812.5 449.2 815.8 452.5 820 455C824.2 457.5 827.9 460 832.5 462.5C837.1 465 842.1 467.9 847.5 470C852.9 472.1 859.2 474 865 475C870.8 476 877.9 474.8 882.5 476C887.1 477.2 890 479.3 892.5 482.5C895 485.7 895.8 490.4 897.5 495C899.2 499.6 902.1 505 902.5 510C902.9 515 900.2 520 900 525C899.8 530 899.3 536.7 901 540C902.7 543.3 906 544.6 910 545C914 545.4 921.2 542.1 925 542.5C928.8 542.9 931.7 544.6 932.5 547.5C933.3 550.4 931.7 556.2 930 560C928.3 563.8 925.4 567.9 922.5 570C919.6 572.1 915 573.3 912.5 572.5C910 571.7 909.6 566.7 907.5 565C905.4 563.3 903.8 563.3 900 562.5C896.2 561.7 889.6 560 885 560C880.4 560 875.4 560.4 872.5 562.5C869.6 564.6 868.8 569.2 867.5 572.5C866.2 575.8 866.7 579.6 865 582.5C863.3 585.4 860 587.9 857.5 590C855 592.1 852.1 592.5 850 595C847.9 597.5 847.1 602.1 845 605C842.9 607.9 840.4 610.4 837.5 612.5C834.6 614.6 830.4 615 827.5 617.5C824.6 620 822.5 624.2 820 627.5C817.5 630.8 813.3 634.2 812.5 637.5C811.7 640.8 812.9 645.4 815 647.5C817.1 649.6 822.1 647.9 825 650C827.9 652.1 830.4 655.8 832.5 660C834.6 664.2 835.4 670.4 837.5 675C839.6 679.6 842.6 683.3 845 687.5C847.4 691.7 847.8 695.9 852 700C856.2 704.1 882 695.3 870 712C858 728.7 804.7 782.3 780 800C755.3 817.7 732.2 817 722 818C711.8 819 720.3 809 719 806C717.7 803 714.6 803 714 800C713.4 797 715.6 793 715.6 788C715.6 783 713.1 775.5 714 770C714.9 764.5 715.4 758.2 721 755C726.6 751.8 739 751.7 747.5 751C756 750.3 766.6 752.8 772 751C777.4 749.2 777.8 743.5 780 740C782.2 736.5 782.5 732.5 785 730C787.5 727.5 791.7 726.2 795 725C798.3 723.8 802.3 724.6 805 722.5C807.7 720.4 810.2 716.2 811 712.5C811.8 708.8 811 702.5 810 700C809 697.5 807.1 696.2 805 697.5C802.9 698.8 800 704.6 797.5 707.5C795 710.4 792.5 714.6 790 715C787.5 715.4 782.9 712.5 782.5 710C782.1 707.5 785 703.3 787.5 700C790 696.7 794.6 694.2 797.5 690C800.4 685.8 803.3 679.6 805 675C806.7 670.4 809.2 665.8 807.5 662.5C805.8 659.2 800.4 657.1 795 655C789.6 652.9 780 651.7 775 650C770 648.3 767.5 648.3 765 645C762.5 641.7 760 634.2 760 630C760 625.8 762.9 622.9 765 620C767.1 617.1 771.7 614.6 772.5 612.5C773.3 610.4 772.1 607.9 770 607.5C767.9 607.1 764.2 610.4 760 610C755.8 609.6 748.3 607.5 745 605C741.7 602.5 740.2 598.8 740 595C739.8 591.2 741.7 585.8 743.8 582.5C745.8 579.2 748.5 576.7 752.5 575C756.5 573.3 763.6 573.8 767.5 572.5C771.4 571.2 775.2 569.2 776 567.5C776.8 565.8 775.2 563.8 772.5 562.5C769.8 561.2 763.4 560.4 760 560C756.6 559.6 755 559.3 752 560C749 560.7 744.7 562 742 564C739.3 566 739 570 736 572C733 574 727 576.3 724 576C721 575.7 719.3 573.3 718 570C716.7 566.7 718 560 716 556C714 552 710 549 706 546C702 543 696.3 540 692 538C687.7 536 684 535.7 680 534C676 532.3 672 529.3 668 528C664 526.7 660.7 525.7 656 526C651.3 526.3 646 528.7 640 530C634 531.3 626 532.7 620 534C614 535.3 608 536 604 538C600 540 600 545.3 596 546C592 546.7 584.7 543 580 542C575.3 541 572.7 539.3 568 540C563.3 540.7 559.3 544.7 552 546C544.7 547.3 532.7 546.8 524 548C515.3 549.2 505.2 550.6 500 553C494.8 555.4 495 557.6 492.5 562.5C490 567.4 487.1 577.1 485 582.5C482.9 587.9 481.7 590.8 480 595C478.3 599.2 477.3 605.4 475 607.5C472.7 609.6 467.7 608.8 466 607.5C464.3 606.2 463.9 602.1 465 600C466.1 597.9 470.3 599.2 472.5 595C474.7 590.8 476.4 580.8 478 575C479.6 569.2 480.3 563.2 482 560C483.7 556.8 487.3 558.3 488 556C488.7 553.7 487.3 548.7 486 546C484.7 543.3 482.7 540 480 540C477.3 540 473.3 544.3 470 546C466.7 547.7 463 550.3 460 550C457 549.7 454.7 546.7 452 544C449.3 541.3 446 538.8 444 534C442 529.2 440.2 520.3 440 515C439.8 509.7 440.9 506.2 443 502C445.1 497.8 449.2 494.1 452.5 490C455.8 485.9 459.8 480.4 462.5 477.5C465.2 474.6 470 473.8 468.8 472.5C467.5 471.2 459.8 471.2 455 470C450.2 468.8 445 465.7 440 465C435 464.3 428.3 466.8 425 466C421.7 465.2 422.1 462.7 420 460C417.9 457.3 415.8 451.9 412.5 450C409.2 448.1 403.1 447.5 400 448.8C396.9 450 394.2 454.4 393.8 457.5C393.3 460.6 394.8 465 397.5 467.5C400.2 470 408.3 470.6 410 472.5C411.7 474.4 410.8 477.1 407.5 478.8C404.2 480.4 396.2 481.5 390 482.5C383.8 483.5 375.8 483.3 370 485C364.2 486.7 360 490.8 355 492.5C350 494.2 350 503.8 340 495C330 486.2 296.7 457.5 295 440C293.3 422.5 305.8 413.3 330 390C354.2 366.7 421.7 343.3 440 300C458.3 256.7 403.3 158.3 440 130Z" fill="#d4a97b"/>
<path d="M690 372C707.5 377.2 780 407.2 797 416C814 424.8 794.8 423.9 792 425C789.2 426.1 782.8 422.1 780 422.5C777.2 422.9 777.9 426.2 775 427.5C772.1 428.8 767.5 430 762.5 430C757.5 430 750.4 428.3 745 427.5C739.6 426.7 733.8 426.7 730 425C726.2 423.3 724.3 420.7 722.5 417.5C720.7 414.3 720.4 408.6 719 406C717.6 403.4 715.8 402.5 714 402C712.2 401.5 710.3 404 708 403C705.7 402 702.7 399 700 396C697.3 393 693.7 389 692 385C690.3 381 672.5 366.8 690 372Z" fill="#d4a97b"/>
<path d="M950 555C952.1 552.1 955.8 552.3 960 552.5C964.2 552.7 969.2 553.1 975 556C980.8 558.9 991.7 557.7 995 570C998.3 582.3 1002.5 620.3 995 630C987.5 639.7 958.3 631.3 950 628C941.7 624.7 946.5 614.7 945 610C943.5 605.3 941.4 604.2 941 600C940.6 595.8 941.4 590 942.5 585C943.6 580 946.2 575 947.5 570C948.8 565 947.9 557.9 950 555Z" fill="#d4a97b"/>
<path d="M372.5 547.5C374.2 546.2 377.1 544.6 380 545C382.9 545.4 386.7 547.5 390 550C393.3 552.5 397.5 556.2 400 560C402.5 563.8 404 568.3 405 572.5C406 576.7 406.4 581.2 406 585C405.6 588.8 403.9 591.7 402.5 595C401.1 598.3 398.8 601.7 397.5 605C396.2 608.3 395 612.1 395 615C395 617.9 397.9 619.6 397.5 622.5C397.1 625.4 395.4 629.8 392.5 632.5C389.6 635.2 384.6 637.9 380 638.8C375.4 639.6 369 638.8 365 637.5C361 636.2 357.7 633.1 356 631C354.3 628.9 353.9 626.8 355 625C356.1 623.2 359.2 621 362.5 620C365.8 619 371.7 620 375 618.8C378.3 617.5 381 614.8 382.5 612.5C384 610.2 385 607.1 383.8 605C382.5 602.9 377.7 601.7 375 600C372.3 598.3 368.3 597.5 367.5 595C366.7 592.5 367.9 588.3 370 585C372.1 581.7 377.9 578.3 380 575C382.1 571.7 383.3 567.9 382.5 565C381.7 562.1 377.1 559.6 375 557.5C372.9 555.4 370.4 554.2 370 552.5C369.6 550.8 370.8 548.8 372.5 547.5Z" fill="#d4a97b"/>
<path d="M430 632.5C433 631 437.5 630.2 440 631C442.5 631.8 444.6 634.8 445 637.5C445.4 640.2 444.6 644.4 442.5 647.5C440.4 650.6 435.6 655.2 432.5 656C429.4 656.8 425.8 654.7 424 652C422.2 649.3 421 643.2 422 640C423 636.8 427 634 430 632.5Z" fill="#d4a97b"/>
<path d="M725 685C725.9 682.3 728.8 677.3 732.5 675C736.2 672.7 742.9 670.6 747.5 671C752.1 671.4 757.1 674.8 760 677.5C762.9 680.2 765 684.6 765 687.5C765 690.4 762.9 693.3 760 695C757.1 696.7 751.7 697.5 747.5 697.5C743.3 697.5 738.4 696.1 735 695C731.6 693.9 728.7 692.7 727 691C725.3 689.3 724.1 687.7 725 685Z" fill="#d4a97b"/>
<path d="M984 425C1036.8 406.7 1247.3 337.5 1300 340C1352.7 342.5 1318.3 415.5 1300 440C1281.7 464.5 1209.2 479.5 1190 487C1170.8 494.5 1186.7 484.5 1185 485C1183.3 485.5 1182.5 488.8 1180 490C1177.5 491.2 1173.3 491.2 1170 492.5C1166.7 493.8 1162.5 495 1160 497.5C1157.5 500 1155.4 503.8 1155 507.5C1154.6 511.2 1158.3 516.7 1157.5 520C1156.7 523.3 1153.3 526.7 1150 527.5C1146.7 528.3 1140 527.1 1137.5 525C1135 522.9 1135 518.8 1135 515C1135 511.2 1139.2 505 1137.5 502.5C1135.8 500 1129.2 500 1125 500C1120.8 500 1116.2 500.5 1112.5 502.5C1108.8 504.5 1105.1 508.8 1103 512C1100.9 515.2 1100.5 519 1100 522C1099.5 525 1101.7 526.6 1100 530C1098.3 533.4 1092.5 539.2 1090 542.5C1087.5 545.8 1086.7 547.5 1085 550C1083.3 552.5 1081 553.2 1080 557.5C1079 561.8 1081.2 573.6 1078.8 576C1076.2 578.4 1068.8 576.3 1065 572C1061.2 567.7 1055.8 555.7 1056 550C1056.2 544.3 1060.7 542.8 1066 538C1071.3 533.2 1083 525.3 1088 521C1093 516.7 1094 515.5 1096 512C1098 508.5 1107.7 501.3 1100 500C1092.3 498.7 1065.7 504.3 1050 504C1034.3 503.7 1013 503.7 1006 498C999 492.3 1011.5 475.3 1008 470C1004.5 464.7 989.2 469.3 985 466C980.8 462.7 983.2 456.8 983 450C982.8 443.2 931.2 443.3 984 425Z" fill="#d4a97b"/>
<path d="M575 1015C576.7 1013.8 581.2 1012.9 585 1012.5C588.8 1012.1 594.6 1011.7 597.5 1012.5C600.4 1013.3 602.1 1015.6 602.5 1017.5C602.9 1019.4 602.1 1022.5 600 1023.8C597.9 1025 593.3 1025.2 590 1025C586.7 1024.8 582.5 1023.3 580 1022.5C577.5 1021.7 575.8 1021.2 575 1020C574.2 1018.8 573.3 1016.2 575 1015Z" fill="#d4a97b"/>
<path d="M411 563C412.2 561.5 415.7 560 418 560C420.3 560 423.8 561.5 425 563C426.2 564.5 427.3 568 425 569C422.7 570 413.3 570 411 569C408.7 568 409.8 564.5 411 563Z" fill="#d4a97b"/>
<path d="M1105.3 503.3C1108.1 501 1112.1 498.1 1114.7 498.7C1117.2 499.2 1120.3 503.9 1120.5 506.8C1120.7 509.8 1118.2 513.2 1115.8 516.2C1113.5 519.1 1109.6 521.6 1106.5 524.3C1103.4 527.1 1099.9 530 1097.2 532.5C1094.4 535 1092.5 536.8 1090.2 539.5C1087.8 542.2 1084.8 546.1 1083.2 548.8C1081.5 551.6 1083.6 555.6 1080.2 555.8C1076.9 556 1065.2 553.3 1063.3 550C1061.5 546.7 1065.7 539.3 1069.2 536C1072.7 532.7 1080.1 532.5 1084.3 530.2C1088.6 527.8 1092.5 524.9 1094.8 522C1097.2 519.1 1096.6 515.8 1098.3 512.7C1100.1 509.6 1102.6 505.7 1105.3 503.3Z" fill="#d4a97b"/>
<path d="M1123 594C1123.3 593.1 1125 592.3 1126 592.5C1127 592.7 1128.7 594 1129 595C1129.3 596 1128.8 598 1128 598.5C1127.2 599 1124.8 598.8 1124 598C1123.2 597.2 1122.7 594.9 1123 594Z" fill="#d4a97b"/>
<path d="M911 643.5C912.6 644.5 917.9 650.4 917.8 654C917.6 657.6 912.4 663 910.2 665.2C908.1 667.5 905.8 668.9 905 667.5C904.2 666.1 905.2 660.2 905.8 657C906.2 653.8 907.1 650.2 908 648C908.9 645.8 909.4 642.5 911 643.5Z" fill="#d4a97b"/>
<path d="M950 393C955.7 386.5 980 386.8 986 393C992 399.2 987.3 423.3 986 430C984.7 436.7 981.5 432.7 978 433C974.5 433.3 968.3 432.8 965 432C961.7 431.2 960.2 428 958 428C955.8 428 953.3 437.8 952 432C950.7 426.2 944.3 399.5 950 393Z" fill="#d4a97b"/>
<path d="M500 433C501.7 432.7 505.3 433.5 508 436C510.7 438.5 516 444.3 516 448C516 451.7 512.3 455.7 508 458C503.7 460.3 493.2 462 490 462C486.8 462 488 460.3 489 458C490 455.7 494.5 451.3 496 448C497.5 444.7 497.3 440.5 498 438C498.7 435.5 498.3 433.3 500 433Z" fill="#ffe0b2"/>
<path d="M700 512C700.7 509.3 704 504.3 708 502C712 499.7 718.7 498.3 724 498C729.3 497.7 736.3 498.7 740 500C743.7 501.3 746 503.7 746 506C746 508.3 744.3 512 740 514C735.7 516 726 517.3 720 518C714 518.7 707.3 519 704 518C700.7 517 699.3 514.7 700 512Z" fill="#ffe0b2"/>
<path d="M672 445C673.3 444.2 678.7 444.2 680 445C681.3 445.8 681.3 449.2 680 450C678.7 450.8 673.3 450.8 672 450C670.7 449.2 670.7 445.8 672 445Z" fill="#ffe0b2"/>
<path d="M310 440C310.4 438.3 315 432.9 317.5 430C320 427.1 322.9 424.2 325 422.5C327.1 420.8 329.4 419.6 330 420C330.6 420.4 330 422.9 328.8 425C327.5 427.1 324.8 430 322.5 432.5C320.2 435 317.1 438.8 315 440C312.9 441.2 309.6 441.7 310 440Z" fill="#ffe0b2"/>
<path d="M440 130C476.7 101.7 611.7 98.3 660 130C708.3 161.7 725 279.7 730 320C735 360.3 699 362.7 690 372C681 381.3 678.8 373.3 676 376C673.2 378.7 673.7 383.3 673 388C672.3 392.7 670.5 401 672 404C673.5 407 679.2 404.7 682 406C684.8 407.3 688 409.7 689 412C690 414.3 689.5 418.3 688 420C686.5 421.7 682.3 422.7 680 422C677.7 421.3 675.7 418.3 674 416C672.3 413.7 672.3 408.7 670 408C667.7 407.3 663.7 410.3 660 412C656.3 413.7 651.7 415.3 648 418C644.3 420.7 641.3 425.5 638 428C634.7 430.5 632 433 628 433C624 433 618.7 430.2 614 428C609.3 425.8 605 422 600 420C595 418 590 417 584 416C578 415 570 414 564 414C558 414 552.3 414.7 548 416C543.7 417.3 541.7 421.7 538 422C534.3 422.3 530.7 419.7 526 418C521.3 416.3 516 413.3 510 412C504 410.7 496.3 410.3 490 410C483.7 409.7 477 409.3 472 410C467 410.7 463.3 411.3 460 414C456.7 416.7 455.3 424.7 452 426C448.7 427.3 442.4 422.2 440 422C437.6 421.8 440 423.7 437.5 425C435 426.3 429.2 428.8 425 430C420.8 431.2 416.7 432.5 412.5 432.5C408.3 432.5 403.8 431.2 400 430C396.2 428.8 394.2 426 390 425C385.8 424 380 423.6 375 423.8C370 423.9 364.2 426.2 360 426C355.8 425.8 352.3 423.9 350 422.5C347.7 421.1 346.3 419.6 346 417.5C345.7 415.4 349 413.8 348 410C347 406.2 324.7 413.3 340 395C355.3 376.7 423.3 344.2 440 300C456.7 255.8 403.3 158.3 440 130Z" fill="#b87d4b"/>
<path d="M506 480C508.7 477 515.7 476.3 520 474C524.3 471.7 528.7 470.3 532 466C535.3 461.7 537.7 453 540 448C542.3 443 542.7 439 546 436C549.3 433 554.3 431.2 560 430C565.7 428.8 575 428.3 580 429C585 429.7 587.3 431.2 590 434C592.7 436.8 593.3 442.3 596 446C598.7 449.7 602.7 453 606 456C609.3 459 612 461.3 616 464C620 466.7 624.3 470.3 630 472C635.7 473.7 644.3 472.7 650 474C655.7 475.3 660.3 477.3 664 480C667.7 482.7 671.3 486.7 672 490C672.7 493.3 670.7 497 668 500C665.3 503 660.7 505.7 656 508C651.3 510.3 646 512.3 640 514C634 515.7 626.7 516.3 620 518C613.3 519.7 606.7 522 600 524C593.3 526 586 528.3 580 530C574 531.7 568.7 534.3 564 534C559.3 533.7 554.7 530.3 552 528C549.3 525.7 550.7 522.3 548 520C545.3 517.7 539.3 514.7 536 514C532.7 513.3 530 514.3 528 516C526 517.7 526 522.3 524 524C522 525.7 518.7 526.7 516 526C513.3 525.3 510 522.7 508 520C506 517.3 504.7 514.7 504 510C503.3 505.3 503.7 497 504 492C504.3 487 503.3 483 506 480Z" fill="#b87d4b"/>
<path d="M706.2 480C706.7 477.9 707.7 474.4 710 472.5C712.3 470.6 716.9 468.5 720 468.8C723.1 469 727.1 471.9 728.8 473.8C730.4 475.6 731 478.1 730 480C729 481.9 725.4 484 722.5 485C719.6 486 715 486.2 712.5 486.2C710 486.2 708.5 486 707.5 485C706.5 484 705.8 482.1 706.2 480Z" fill="#b87d4b"/>
<path d="M777.5 463.8C778.1 462.5 780.8 460 782.5 460C784.2 460 787.1 462.5 787.5 463.8C787.9 465 786.5 466.9 785 467.5C783.5 468.1 780 468.1 778.8 467.5C777.5 466.9 776.9 465 777.5 463.8Z" fill="#b87d4b"/>
<path d="M805 475C805.8 472.9 809.6 470 812.5 468.8C815.4 467.5 819.4 466.9 822.5 467.5C825.6 468.1 829.2 470.6 831.2 472.5C833.3 474.4 835.2 476.5 835 478.8C834.8 481 832.5 484.4 830 486.2C827.5 488.1 822.9 489.8 820 490C817.1 490.2 814.6 489 812.5 487.5C810.4 486 808.8 483.3 807.5 481.2C806.2 479.2 804.2 477.1 805 475Z" fill="#b87d4b"/>
<path d="M762.5 536.2C762.9 533.3 768.8 528.3 772.5 525C776.2 521.7 781.2 517.9 785 516.2C788.8 514.6 791.7 514 795 515C798.3 516 802.1 520 805 522.5C807.9 525 810.4 526.9 812.5 530C814.6 533.1 818.3 539 817.5 541.2C816.7 543.5 811.2 542.7 807.5 543.8C803.8 544.8 799.6 546.9 795 547.5C790.4 548.1 784.2 548.3 780 547.5C775.8 546.7 772.9 544.4 770 542.5C767.1 540.6 762.1 539.2 762.5 536.2Z" fill="#b87d4b"/>
<path d="M870 531.2C870.6 529.4 872.9 527.1 875 526.2C877.1 525.4 880.6 525 882.5 526.2C884.4 527.5 885.8 531.2 886.2 533.8C886.7 536.2 886.5 539.8 885 541.2C883.5 542.7 879.8 543.1 877.5 542.5C875.2 541.9 872.5 539.4 871.2 537.5C870 535.6 869.4 533.1 870 531.2Z" fill="#b87d4b"/>
<path d="M724 534C725.7 533.3 732.3 533.3 734 534C735.7 534.7 735.7 537.3 734 538C732.3 538.7 725.7 538.7 724 538C722.3 537.3 722.3 534.7 724 534Z" fill="#b87d4b"/>
<path d="M1030 445C1033.5 441.7 1040 443.3 1050 442.5C1060 441.7 1082.5 441.2 1090 440C1097.5 438.8 1094.6 437.9 1095 435C1095.4 432.1 1095 425.4 1092.5 422.5C1090 419.6 1082.3 419.4 1080 417.5C1077.7 415.6 1075.4 412.7 1078.8 411.2C1082.1 409.8 1086 416 1100 408.8C1114 401.5 1148.8 376.5 1162.5 367.5C1176.2 358.5 1167.9 358.8 1182.5 355C1197.1 351.2 1233.8 338.8 1250 345C1266.2 351.2 1276.7 377.5 1280 392.5C1283.3 407.5 1277.9 429.2 1270 435C1262.1 440.8 1243.8 425.4 1232.5 427.5C1221.2 429.6 1207.9 441.2 1202.5 447.5C1197.1 453.8 1201.5 460.4 1200 465C1198.5 469.6 1195.4 472.9 1193.8 475C1192.1 477.1 1192.3 476.9 1190 477.5C1187.7 478.1 1184.2 478.3 1180 478.8C1175.8 479.2 1170 479.4 1165 480C1160 480.6 1154.6 481.7 1150 482.5C1145.4 483.3 1142.5 483.8 1137.5 485C1132.5 486.2 1125 487.5 1120 490C1115 492.5 1110.8 497.9 1107.5 500C1104.2 502.1 1109.6 502.5 1100 502.5C1090.4 502.5 1062.5 500.6 1050 500C1037.5 499.4 1028.8 502.1 1025 498.8C1021.2 495.4 1026.9 486 1027.5 480C1028.1 474 1028.3 468.3 1028.8 462.5C1029.2 456.7 1026.5 448.3 1030 445Z" fill="#b87d4b"/>
<path d="M590 137.5C587.1 140.8 596.7 152.5 597.5 157.5C598.3 162.5 597.9 164.6 595 167.5C592.1 170.4 583.5 172.5 580 175C576.5 177.5 574.6 180 573.8 182.5C572.9 185 573.1 187.7 575 190C576.9 192.3 580.8 195.2 585 196.2C589.2 197.3 595 197.1 600 196.2C605 195.4 610.6 191.7 615 191.2C619.4 190.8 624.6 192.3 626.2 193.8C627.9 195.2 627.3 198.3 625 200C622.7 201.7 617.5 202.7 612.5 203.8C607.5 204.8 600 205 595 206.2C590 207.5 585.2 209.2 582.5 211.2C579.8 213.3 578.3 216.5 578.8 218.8C579.2 221 581.5 224.4 585 225C588.5 225.6 595 223.8 600 222.5C605 221.2 610.8 217.5 615 217.5C619.2 217.5 622.1 220.4 625 222.5C627.9 224.6 631 227.1 632.5 230C634 232.9 632.5 236.7 633.8 240C635 243.3 636.9 248.8 640 250C643.1 251.2 650.4 260 652.5 247.5C654.6 235 658.8 193.3 652.5 175C646.2 156.7 625.4 143.8 615 137.5C604.6 131.2 592.9 134.2 590 137.5Z" fill="#d4a97b"/>
<path d="M587.5 260C588.8 256.2 594.2 250.8 597.5 247.5C600.8 244.2 604.2 241.2 607.5 240C610.8 238.8 615 238.3 617.5 240C620 241.7 620.2 246.2 622.5 250C624.8 253.8 629.4 257.9 631.2 262.5C633.1 267.1 633.3 273.5 633.8 277.5C634.2 281.5 635.2 284.6 633.8 286.2C632.3 287.9 628.5 287.5 625 287.5C621.5 287.5 616.7 287.5 612.5 286.2C608.3 285 603.8 282.7 600 280C596.2 277.3 592.1 273.3 590 270C587.9 266.7 586.2 263.8 587.5 260Z" fill="#d4a97b"/>
<path d="M636.2 288.8C637.9 287.5 644.6 289 650 290C655.4 291 663.3 292.9 668.8 295C674.2 297.1 680 299.2 682.5 302.5C685 305.8 685 311.2 683.8 315C682.5 318.8 677.1 321.5 675 325C672.9 328.5 672.9 336.7 671.2 336.2C669.6 335.8 666.9 326.9 665 322.5C663.1 318.1 662.5 313.3 660 310C657.5 306.7 653.3 304.6 650 302.5C646.7 300.4 642.3 299.8 640 297.5C637.7 295.2 634.6 290 636.2 288.8Z" fill="#d4a97b"/>
<path d="M459 320C460.2 317.1 465.2 316.2 467.5 315C469.8 313.8 470.8 311.7 472.5 312.5C474.2 313.3 475.4 317.1 477.5 320C479.6 322.9 482.1 327.1 485 330C487.9 332.9 490.8 334.6 495 337.5C499.2 340.4 506.2 344.2 510 347.5C513.8 350.8 515.4 354.2 517.5 357.5C519.6 360.8 522.5 365 522.5 367.5C522.5 370 520.4 371.9 517.5 372.5C514.6 373.1 508.1 371.8 505 371C501.9 370.2 500.2 370.2 498.8 367.5C497.2 364.8 497.9 359.2 496 355C494.1 350.8 491 345 487.5 342.5C484 340 478.3 340.4 475 340C471.7 339.6 470 341.2 467.5 340C465 338.8 461.4 335.8 460 332.5C458.6 329.2 457.8 322.9 459 320Z" fill="#d4a97b"/>
<path d="M420 413C420 413.6 419.7 414.3 419.3 414.8C418.9 415.2 418.2 415.7 417.6 415.9C416.9 416 416.1 416 415.4 415.9C414.8 415.7 414.1 415.2 413.7 414.8C413.3 414.3 413 413.6 413 413C413 412.4 413.3 411.7 413.7 411.2C414.1 410.8 414.8 410.3 415.4 410.1C416.1 410 416.9 410 417.6 410.1C418.2 410.3 418.9 410.8 419.3 411.2C419.7 411.7 420 412.4 420 413Z" fill="#d4a97b"/>
<path d="M1205.6 377.5C1207.8 376.9 1210.6 378.4 1213.1 378.4C1215.6 378.4 1218.3 378.4 1220.6 377.5C1223 376.6 1225.6 374.5 1227.2 372.8C1228.8 371.1 1229.7 369.1 1230 367.2C1230.3 365.3 1230 363 1229.1 361.6C1228.1 360.2 1223.9 360.6 1224.4 358.8C1224.8 356.9 1228.8 350.6 1231.9 350.3C1235 350 1242.7 354.7 1243.1 356.9C1243.6 359.1 1236.1 361.4 1234.7 363.4C1233.3 365.5 1232.8 368.9 1234.7 369.1C1236.6 369.2 1243.3 363.4 1245.9 364.4C1248.6 365.3 1251.7 371.1 1250.6 374.7C1249.5 378.3 1240.6 383.6 1239.4 385.9C1238.1 388.3 1240.9 388.6 1243.1 388.8C1245.3 388.9 1250.5 386.9 1252.5 386.9C1254.5 386.9 1255.5 387.8 1255.3 388.8C1255.2 389.7 1252.7 390.9 1251.6 392.5C1250.5 394.1 1249.4 396.2 1248.8 398.1C1248.1 400 1247.5 401.2 1247.8 403.8C1248.1 406.2 1249.4 410.5 1250.6 413.1C1251.9 415.8 1253.6 417.2 1255.3 419.7C1257 422.2 1259.1 426.1 1260.9 428.1C1262.8 430.2 1266.7 431.6 1266.6 431.9C1266.4 432.2 1261.9 431.4 1260 430C1258.1 428.6 1258.1 424.4 1255.3 423.4C1252.5 422.5 1247 424 1243.1 424.4C1239.2 424.8 1234.2 425.9 1231.9 425.8C1229.5 425.6 1231.1 423.6 1229.1 423.4C1227 423.3 1222.8 424.5 1219.7 424.8C1216.6 425.2 1213.4 425.5 1210.3 425.3C1207.2 425.1 1204.1 423.8 1200.9 423.4C1197.8 423.1 1194.7 423 1191.6 423.4C1188.4 423.9 1185.3 425.4 1182.2 426.2C1179.1 427.1 1175.2 428.9 1172.8 428.6C1170.5 428.3 1168.9 425.9 1168.1 424.4C1167.3 422.9 1167.7 421.4 1168.1 419.7C1168.6 418 1168.8 415.5 1170.9 414.1C1173.1 412.7 1178 412.7 1181.2 411.2C1184.5 409.8 1188.3 407.8 1190.6 405.6C1193 403.4 1194.2 400.9 1195.3 398.1C1196.4 395.3 1196.4 391.4 1197.2 388.8C1198 386.1 1198.6 384.1 1200 382.2C1201.4 380.3 1203.4 378.1 1205.6 377.5Z" fill="#d4a97b"/>
<path d="M1190.6 363C1191.2 364 1194.1 366.3 1196.2 367.2C1198.4 368 1201.9 368.4 1203.8 368.1C1205.6 367.8 1208.1 366.2 1207.5 365.3C1206.9 364.5 1202.5 363.7 1200 363C1197.5 362.3 1194.1 361.1 1192.5 361.1C1190.9 361.1 1190 362 1190.6 363Z" fill="#d4a97b"/>
<path d="M1140 377.5C1141.9 376.6 1147.7 376.2 1151.2 374.7C1154.8 373.1 1158.3 370.2 1161.6 368.1C1164.8 366.1 1168.8 363.1 1170.9 362.5C1173 361.9 1173.9 363.3 1174.2 364.4C1174.5 365.5 1174.1 367.5 1172.8 369.1C1171.5 370.6 1168.9 372.3 1166.2 373.8C1163.6 375.2 1160.3 376.5 1156.9 377.5C1153.4 378.5 1148.4 379.4 1145.6 379.8C1142.8 380.3 1140.9 380.7 1140 380.3C1139.1 379.9 1138.1 378.4 1140 377.5Z" fill="#d4a97b"/>
<path d="M472.5 194.5C476 194.1 481.7 195.3 485 197.5C488.3 199.7 490 204.2 492.5 207.5C495 210.8 496.7 214.2 500 217.5C503.3 220.8 508.3 224.6 512.5 227.5C516.7 230.4 522.1 232.7 525 235C527.9 237.3 528.3 238.3 530 241.2C531.7 244.2 533.5 249 535 252.5C536.5 256 537.1 259.6 538.8 262.5C540.4 265.4 542.3 268.3 545 270C547.7 271.7 550.8 271.9 555 272.5C559.2 273.1 565.8 273.1 570 273.8C574.2 274.4 577.1 274.8 580 276.2C582.9 277.7 585 279.8 587.5 282.5C590 285.2 592.1 290 595 292.5C597.9 295 601.7 295.6 605 297.5C608.3 299.4 611.7 301.2 615 303.8C618.3 306.2 622.5 309.4 625 312.5C627.5 315.6 629 318.8 630 322.5C631 326.2 631.9 332.1 631.2 335C630.6 337.9 627.9 340 626.2 340C624.6 340 622.5 337.5 621.2 335C620 332.5 620.2 328.3 618.8 325C617.3 321.7 615.2 317.7 612.5 315C609.8 312.3 605 310 602.5 308.8C600 307.5 599 306.7 597.5 307.5C596 308.3 595.6 312.1 593.8 313.8C591.9 315.4 589.2 317.5 586.2 317.5C583.3 317.5 578.8 316.2 576.2 313.8C573.8 311.2 573.1 305.8 571.2 302.5C569.4 299.2 567.7 295.8 565 293.8C562.3 291.7 558.3 290.2 555 290C551.7 289.8 548.3 291.2 545 292.5C541.7 293.8 538.3 294.6 535 297.5C531.7 300.4 527.7 306.2 525 310C522.3 313.8 520.8 317.7 518.8 320C516.7 322.3 515.6 323.8 512.5 323.8C509.4 323.8 503.8 321.9 500 320C496.2 318.1 492.1 315.4 490 312.5C487.9 309.6 488.5 305.8 487.5 302.5C486.5 299.2 485 297.5 483.8 292.5C482.5 287.5 481.5 279.6 480 272.5C478.5 265.4 477.9 259.2 475 250C472.1 240.8 464.4 225.8 462.5 217.5C460.6 209.2 462.1 203.8 463.8 200C465.4 196.2 469 194.9 472.5 194.5Z" fill="#9e6240"/>
<path d="M568.8 325C569.6 322.7 571.9 318.8 575 317.5C578.1 316.2 584.8 316.9 587.5 317.5C590.2 318.1 591.7 319.2 591.2 321.2C590.8 323.3 587.7 327.9 585 330C582.3 332.1 577.5 333.5 575 333.8C572.5 334 571 332.7 570 331.2C569 329.8 567.9 327.3 568.8 325Z" fill="#9e6240"/>
<path d="M560 350C561.7 348.3 568.3 348.3 572.5 348.8C576.7 349.2 582.7 350.4 585 352.5C587.3 354.6 587.9 359.4 586.2 361.2C584.6 363.1 579 364.2 575 363.8C571 363.3 565 361 562.5 358.8C560 356.5 558.3 351.7 560 350Z" fill="#9e6240"/>
<path d="M402.5 382.5C405.4 379.2 407.9 377.3 412.5 375C417.1 372.7 423.8 370.2 430 368.8C436.2 367.3 445 366 450 366.2C455 366.5 458.1 368.5 460 370C461.9 371.5 462.5 372.9 461.2 375C460 377.1 456 380.4 452.5 382.5C449 384.6 444.6 386.2 440 387.5C435.4 388.8 430 388.3 425 390C420 391.7 414.2 396 410 397.5C405.8 399 402.5 399.2 400 398.8C397.5 398.3 394.6 397.7 395 395C395.4 392.3 399.6 385.8 402.5 382.5Z" fill="#9e6240"/>
<path d="M545 486C545 487 544.5 488.1 543.7 488.9C542.9 489.7 541.5 490.5 540.2 490.8C538.9 491.1 537.1 491.1 535.8 490.8C534.5 490.5 533.1 489.7 532.3 488.9C531.5 488.1 531 487 531 486C531 485 531.5 483.9 532.3 483.1C533.1 482.3 534.5 481.5 535.8 481.2C537.1 480.9 538.9 480.9 540.2 481.2C541.5 481.5 542.9 482.3 543.7 483.1C544.5 483.9 545 485 545 486Z" fill="#9e6240"/>
<path d="M1100 432.5C1102.3 428.3 1108.3 422.7 1112.5 420C1116.7 417.3 1121.2 415.8 1125 416.2C1128.8 416.7 1132.1 420.2 1135 422.5C1137.9 424.8 1140 427.1 1142.5 430C1145 432.9 1147.9 436.7 1150 440C1152.1 443.3 1154.6 446.2 1155 450C1155.4 453.8 1154.2 459.2 1152.5 462.5C1150.8 465.8 1148.3 469.2 1145 470C1141.7 470.8 1136.7 467.9 1132.5 467.5C1128.3 467.1 1123.8 468.3 1120 467.5C1116.2 466.7 1113.1 464.6 1110 462.5C1106.9 460.4 1103.1 457.9 1101.2 455C1099.4 452.1 1099 448.8 1098.8 445C1098.5 441.2 1097.7 436.7 1100 432.5Z" fill="#9e6240"/>
<path d="M1043.8 486.2C1044.8 483.8 1047.3 481.5 1050 480C1052.7 478.5 1056.7 477.1 1060 477.5C1063.3 477.9 1067.9 480 1070 482.5C1072.1 485 1070.8 490 1072.5 492.5C1074.2 495 1079.6 496.2 1080 497.5C1080.4 498.8 1080 499.7 1075 500C1070 500.3 1055.2 500.3 1050 499.5C1044.8 498.7 1044.8 497.2 1043.8 495C1042.7 492.8 1042.7 488.8 1043.8 486.2Z" fill="#9e6240"/>
<path d="M1152 402.5C1152 403.4 1151.7 404.4 1151.1 405.1C1150.6 405.9 1149.7 406.5 1148.9 406.8C1148.1 407.1 1146.9 407.1 1146.1 406.8C1145.3 406.5 1144.4 405.9 1143.9 405.1C1143.3 404.4 1143 403.4 1143 402.5C1143 401.6 1143.3 400.6 1143.9 399.9C1144.4 399.1 1145.3 398.5 1146.1 398.2C1146.9 397.9 1148.1 397.9 1148.9 398.2C1149.7 398.5 1150.6 399.1 1151.1 399.9C1151.7 400.6 1152 401.6 1152 402.5Z" fill="#9e6240"/>
<path d="M1181.2 466C1181.2 466.5 1181.1 467.1 1180.8 467.5C1180.5 467.9 1180 468.2 1179.5 468.4C1179.1 468.5 1178.4 468.5 1178 468.4C1177.5 468.2 1177 467.9 1176.7 467.5C1176.4 467.1 1176.2 466.5 1176.2 466C1176.2 465.5 1176.4 464.9 1176.7 464.5C1177 464.1 1177.5 463.8 1178 463.6C1178.4 463.5 1179.1 463.5 1179.5 463.6C1180 463.8 1180.5 464.1 1180.8 464.5C1181.1 464.9 1181.2 465.5 1181.2 466Z" fill="#9e6240"/>
<path d="M1193.4 441.7C1193.4 441.1 1197.7 440.2 1200 439.4C1202.3 438.6 1205 437.3 1207.5 437C1210 436.7 1214.4 437 1215 437.5C1215.6 438 1212.8 439.2 1211.2 440.3C1209.7 441.4 1207.5 443.6 1205.6 444.1C1203.8 444.5 1202 443.5 1200 443.1C1198 442.7 1193.4 442.3 1193.4 441.7Z" fill="#9e6240"/>
<path d="M495 266.2C495.8 264.4 500 262.3 502.5 261.2C505 260.2 507.9 259 510 260C512.1 261 514 265 515 267.5C516 270 516.9 272.9 516.2 275C515.6 277.1 513.3 279.6 511.2 280C509.2 280.4 506 278.8 503.8 277.5C501.5 276.2 499 274.4 497.5 272.5C496 270.6 494.2 268.1 495 266.2Z" fill="#664638"/>
<path d="M446.2 735C447.9 731.5 451.9 729.4 455 728.8C458.1 728.1 462.9 729.4 465 731.2C467.1 733.1 467.7 736.5 467.5 740C467.3 743.5 463.8 748.8 463.8 752.5C463.8 756.2 465.2 759.2 467.5 762.5C469.8 765.8 474.6 769.2 477.5 772.5C480.4 775.8 485.4 778.3 485 782.5C484.6 786.7 475 793.8 475 797.5C475 801.2 480.8 805 485 805C489.2 805 495.8 797.5 500 797.5C504.2 797.5 507.9 801.7 510 805C512.1 808.3 512.9 813.8 512.5 817.5C512.1 821.2 507.1 825.4 507.5 827.5C507.9 829.6 512.1 830 515 830C517.9 830 522.9 830 525 827.5C527.1 825 526.2 819.6 527.5 815C528.8 810.4 529.6 803.8 532.5 800C535.4 796.2 540.4 794 545 792.5C549.6 791 555.4 790.8 560 791.2C564.6 791.7 571.2 792.7 572.5 795C573.8 797.3 569.4 801.2 567.5 805C565.6 808.8 562.5 813.8 561.2 817.5C560 821.2 558.5 824.2 560 827.5C561.5 830.8 566.7 835.4 570 837.5C573.3 839.6 575 839.2 580 840C585 840.8 594.2 840.8 600 842.5C605.8 844.2 611.7 849.6 615 850C618.3 850.4 617.5 845.4 620 845C622.5 844.6 626.7 845.8 630 847.5C633.3 849.2 636.2 852.5 640 855C643.8 857.5 649.6 859.6 652.5 862.5C655.4 865.4 654.6 869.6 657.5 872.5C660.4 875.4 666.2 877.9 670 880C673.8 882.1 677.5 882.1 680 885C682.5 887.9 684.6 893.8 685 897.5C685.4 901.2 685.8 906.2 682.5 907.5C679.2 908.8 671.2 905.8 665 905C658.8 904.2 651.7 903.3 645 902.5C638.3 901.7 631.2 900.8 625 900C618.8 899.2 612.9 898.3 607.5 897.5C602.1 896.7 597.9 895.8 592.5 895C587.1 894.2 580.4 893.3 575 892.5C569.6 891.7 565 890.8 560 890C555 889.2 550 887.7 545 887.5C540 887.3 534.6 887.9 530 888.8C525.4 889.6 520.4 890.2 517.5 892.5C514.6 894.8 513.8 898.3 512.5 902.5C511.2 906.7 510.8 912.9 510 917.5C509.2 922.1 509.2 927.1 507.5 930C505.8 932.9 502.5 936.7 500 935C497.5 933.3 495 926.2 492.5 920C490 913.8 487.9 905.4 485 897.5C482.1 889.6 478.3 880.4 475 872.5C471.7 864.6 468.3 857.5 465 850C461.7 842.5 458.3 835.8 455 827.5C451.7 819.2 447.1 808.8 445 800C442.9 791.2 442.5 783.3 442.5 775C442.5 766.7 444.4 756.7 445 750C445.6 743.3 444.6 738.5 446.2 735Z" fill="#bbdefb"/>
<path d="M508.8 757.5C509.4 755.4 511.2 753.5 512.5 753.8C513.8 754 515.8 756.5 516.2 758.8C516.7 761 515.8 765.2 515 767.5C514.2 769.8 512.3 772.7 511.2 772.5C510.2 772.3 509.2 768.8 508.8 766.2C508.3 763.8 508.1 759.6 508.8 757.5Z" fill="#bbdefb"/>
<path d="M552.5 765C553.1 763.6 555.4 761.7 557.5 761.2C559.6 760.8 563.5 761.5 565 762.5C566.5 763.5 567.1 766.2 566.2 767.5C565.4 768.8 562.1 769.7 560 770C557.9 770.3 555 770.3 553.8 769.5C552.5 768.7 551.9 766.4 552.5 765Z" fill="#bbdefb"/>
<path d="M575 762.5C575.8 761 579 759 581.2 758.8C583.5 758.5 587.3 759.8 588.8 761.2C590.2 762.7 590.8 766 590 767.5C589.2 769 586 770.4 583.8 770.5C581.5 770.6 577.7 769.3 576.2 768C574.8 766.7 574.2 764 575 762.5Z" fill="#bbdefb"/>
<path d="M552.5 645C553.1 641.7 555 635.8 557.5 632.5C560 629.2 564.2 626.5 567.5 625C570.8 623.5 574.6 622.5 577.5 623.8C580.4 625 583.5 629 585 632.5C586.5 636 586.7 641.2 586.2 645C585.8 648.8 584.8 652.3 582.5 655C580.2 657.7 576.2 660.8 572.5 661.2C568.8 661.7 563.1 659 560 657.5C556.9 656 555 654.6 553.8 652.5C552.5 650.4 551.9 648.3 552.5 645Z" fill="#bbdefb"/>
<path d="M497.5 685C500.8 682.9 502.9 679.4 507.5 677.5C512.1 675.6 519.2 674.6 525 673.8C530.8 672.9 538.3 671.9 542.5 672.5C546.7 673.1 547.1 675.4 550 677.5C552.9 679.6 559.2 682.9 560 685C560.8 687.1 557.9 689.6 555 690C552.1 690.4 547.5 687.9 542.5 687.5C537.5 687.1 530 687.1 525 687.5C520 687.9 516.7 689.2 512.5 690C508.3 690.8 503.8 691.7 500 692.5C496.2 693.3 492.1 695.4 490 695C487.9 694.6 486.2 691.7 487.5 690C488.8 688.3 494.2 687.1 497.5 685Z" fill="#bbdefb"/>
<path d="M618.8 678.8C619.4 677.1 622.5 674.4 625 673.8C627.5 673.1 631.9 673.8 633.8 675C635.6 676.2 636.9 679.6 636.2 681.2C635.6 682.9 632.5 684.6 630 685C627.5 685.4 623.1 684.8 621.2 683.8C619.4 682.7 618.1 680.4 618.8 678.8Z" fill="#bbdefb"/>
<path d="M646.2 675C646.7 674 648.8 672.5 650 672.5C651.2 672.5 653.3 674 653.8 675C654.2 676 653.5 678.1 652.5 678.8C651.5 679.4 648.5 679.4 647.5 678.8C646.5 678.1 645.8 676 646.2 675Z" fill="#bbdefb"/>
<path d="M293.8 548.8C294 547.3 295.4 546.2 296.2 546.2C297.1 546.2 298.4 547.4 298.8 548.8C299.1 550.1 299 553.5 298.2 554.5C297.5 555.5 295.2 556 294.5 555C293.8 554 293.5 550.2 293.8 548.8Z" fill="#bbdefb"/>
<path d="M662.5 937.5C663.8 935 666.7 935.8 670 935C673.3 934.2 680.8 930.8 682.5 932.5C684.2 934.2 681.7 940.8 680 945C678.3 949.2 675 955 672.5 957.5C670 960 666.7 961.2 665 960C663.3 958.8 662.9 953.8 662.5 950C662.1 946.2 661.2 940 662.5 937.5Z" fill="#bbdefb"/>
<path d="M487.5 900C488.3 895.8 496.2 900 500 905C503.8 910 507.1 922.5 510 930C512.9 937.5 514.6 943.8 517.5 950C520.4 956.2 524.4 961.7 527.5 967.5C530.6 973.3 533.8 977.9 536.2 985C538.8 992.1 542.7 1005.8 542.5 1010C542.3 1014.2 537.9 1014.2 535 1010C532.1 1005.8 528.3 992.1 525 985C521.7 977.9 518.3 972.9 515 967.5C511.7 962.1 508.3 958.8 505 952.5C501.7 946.2 497.9 938.8 495 930C492.1 921.2 486.7 904.2 487.5 900Z" fill="#bbdefb"/>
<path d="M641.2 882.5C641.5 880.4 643.3 877.5 645 876.2C646.7 875 649.8 874.2 651.2 875C652.7 875.8 654 879.2 653.8 881.2C653.5 883.3 651.7 886.2 650 887.5C648.3 888.8 645.2 889.6 643.8 888.8C642.3 887.9 641 884.6 641.2 882.5Z" fill="#eef6fe"/>
<path d="M443.8 787.5C446.2 785.8 453.5 783.8 457.5 785C461.5 786.2 463.8 791.7 467.5 795C471.2 798.3 477.1 802.5 480 805C482.9 807.5 485 807.5 485 810C485 812.5 481.2 816.7 480 820C478.8 823.3 477.1 826.7 477.5 830C477.9 833.3 479.6 836.7 482.5 840C485.4 843.3 492.1 846.2 495 850C497.9 853.8 498.5 857.5 500 862.5C501.5 867.5 503.3 874.2 503.8 880C504.2 885.8 503.5 892.9 502.5 897.5C501.5 902.1 498.5 903.8 497.5 907.5C496.5 911.2 496 916.2 496.2 920C496.5 923.8 499 928.3 498.8 930C498.5 931.7 497.1 935.8 495 930C492.9 924.2 489.6 905 486.2 895C482.9 885 479 878.8 475 870C471 861.2 466.7 851.2 462.5 842.5C458.3 833.8 453.3 825.4 450 817.5C446.7 809.6 443.5 800 442.5 795C441.5 790 441.2 789.2 443.8 787.5Z" fill="#64b5f6"/>
<path d="M541.2 805C541.9 803.1 543.1 800.8 545 800C546.9 799.2 551 798.8 552.5 800C554 801.2 554.2 805 553.8 807.5C553.3 810 551.5 813.5 550 815C548.5 816.5 546.5 816.9 545 816.2C543.5 815.6 541.9 813.1 541.2 811.2C540.6 809.4 540.6 806.9 541.2 805Z" fill="#64b5f6"/>
<path d="M510 847.5C510.8 846 516.2 845.4 520 845C523.8 844.6 528.8 846 532.5 845C536.2 844 539.6 840.2 542.5 838.8C545.4 837.3 548.1 835.2 550 836.2C551.9 837.3 553.8 841.9 553.8 845C553.8 848.1 552.3 852.1 550 855C547.7 857.9 543.3 860.6 540 862.5C536.7 864.4 532.9 866.5 530 866.2C527.1 866 525 863.3 522.5 861.2C520 859.2 517.1 856 515 853.8C512.9 851.5 509.2 849 510 847.5Z" fill="#64b5f6"/>
<path d="M561.2 860C561.9 857.9 561.9 855 565 853.8C568.1 852.5 575.4 852.3 580 852.5C584.6 852.7 590.2 852.5 592.5 855C594.8 857.5 594.2 864.4 593.8 867.5C593.3 870.6 593.1 872.5 590 873.8C586.9 875 579.2 875.2 575 875C570.8 874.8 567.3 874 565 872.5C562.7 871 561.9 868.3 561.2 866.2C560.6 864.2 560.6 862.1 561.2 860Z" fill="#64b5f6"/>
<g fill="none" stroke="#59626b" stroke-width="2.1" stroke-dasharray="6.7 4" stroke-linejoin="round">
<path d="M512.5 173.8 L515.4 176.6 L517.8 179.8 L519.8 182.1 L523.2 182.5 L524.9 185.3 L527.7 186.7 L530.3 188.3 L532.9 190.4 L536.5 191 L538.8 193.7 L541.5 196.1 L543.1 199 L543.8 202.5 L545.1 205.6 L548.7 206.8 L550.2 209.8 L552.3 212.2 L554.2 214.8 L557.4 215.8 L560.1 217.4 L561.5 221.5 L565.4 223.4 L567.9 226.3 L571.9 226.6 L575.2 228.4 L578.6 228.5 L581.8 229.9 L584.9 231.6 L587.5 228.8 L590.9 228.1 L593.8 226.4 L597.1 227.8 L600 230 L602.9 232.5 L604.2 236 L608 234.8 L612.5 235.2 L617.5 237.4 L617.4 241.3 L616.2 245"/>
<path d="M560 220 L556.7 220 L553.3 220.2 L550 219.2 L547 220 L544.6 222.3 L541.5 222.5 L538.7 223.7 L535.6 225 L533.3 227.4 L531.4 230.2 L529.6 233 L531.7 236.4 L530.5 239.4 L529.7 242.5 L528.9 245.6 L526.3 247.5 L525.4 250.8 L522.3 252.4 L518.2 251.1 L513.8 251.2"/>
<path d="M522.5 253.8 L522.8 257.3 L525.2 259.9 L527.2 262.1 L529.9 263.6 L532.5 265.1 L533.9 268.3 L534.1 272 L535.8 275.2 L538 278.3 L539.2 281.9 L541.7 284.8 L544.3 284.7 L547.2 283.7 L550.2 283 L551.4 285.6 L554.6 287.1 L556.3 289.9 L557.9 293.6 L561.6 296 L562.5 300 L560.3 305.2 L563.1 306 L565.3 308.4 L564.9 312 L566.7 314.9 L570.5 313.7 L575 313.6 L578 316 L582.1 315.2 L585 317.4 L588.3 317.6 L591.7 318.6 L595 317.9 L597.9 312.7 L596.3 309.5 L596 306.3 L595.2 303.2 L595.4 299.9 L598.1 298.3 L598.4 294.4 L601 292.3 L604.8 290.5 L608.5 289.3 L612.5 288.7 L615.6 288.7 L618.7 287.5 L621.7 286.4 L625 287.4 L628.2 288.1 L631.2 289.6 L634 291.5 L637.4 291.5"/>
<path d="M462.5 332.5 L465.5 332.7 L468.5 333.2 L471.5 333.6 L474.6 332 L477.5 333.9 L481.3 333.9 L485.1 333.9 L488.8 332.8 L491.9 332.8 L495.1 333.5 L498.2 333.9 L500.7 336.6 L504 337.7 L507.5 340.6 L509.6 344.5 L511.5 340.8 L514.9 338 L518.4 336 L522.4 335.7 L526.7 337.3 L530.2 339.6 L533.7 338.7 L537.4 337.6 L542.4 335.7 L543 332.1 L542.7 328.7 L545.6 326.3 L548.7 324.9 L552.5 324.2 L556.2 323.6 L559.8 321.4 L562.3 317.9 L567.5 317.5 L566.5 313.8 L565.2 310.1 L562.8 307.8 L561.7 304.5 L563.5 298.7"/>
<path d="M483.1 336.2 L482.8 340.2 L485.3 343.6 L485.5 347.4 L485.8 351 L488.7 353.1 L492 352.5 L495 353.9 L498.2 353.5 L500.9 355.5 L503.5 357.4 L506.7 358.5 L509.9 358.7 L513.2 358.5 L514.7 361.7 L516.5 364.7 L516.6 368.2 L518 371.3 L518.6 374.7 L520.8 377.4 L523.7 379.5 L525 383.1 L527.7 385.4 L529.9 388.2 L532.5 390.6 L535.4 392.8 L534.3 395.5 L535.1 398.9 L533.7 401.9 L536.5 403.4 L539.5 404.6 L541.6 407.1 L541.1 403.7 L541.9 400 L545.8 397.6 L549.1 394.8 L551.7 397.1 L554 400.3 L558.2 398.2 L560.4 394.7 L565.6 392.4 L567.6 395.3 L568.8 398.5 L569.7 401.7 L569.6 405.2 L567.8 408.1 L567.1 411.2 L571.5 411.2 L575 409.4 L578.9 408.9 L582.6 407.8 L583.4 404.3 L586.6 402.8 L588.5 400.3 L588.9 396.2 L588.8 392.5 L588.1 388.8 L585.5 386.4 L584.6 382.9"/>
<path d="M576.9 315.6 L582.5 315.4 L586 317.4 L589.9 318 L588.4 320.8 L586.5 323.9 L583.9 326.6 L581.4 328.9 L580 332.5 L577.2 334.7 L576.5 337.9 L573.3 340.2 L572.8 343.6 L574.4 347.4 L572.8 351.3 L573.5 355 L573.9 358.2 L575.1 361.2 L574.9 364.4 L577.3 366.7 L578.3 369.8"/>
<path d="M577.8 370 L573.3 369.7 L569.3 371.7 L567.4 375.6 L565.2 379.2 L568.6 382.1 L571 385.3 L574.8 386.5 L578.9 385.5 L582.5 386.6 L583.9 383.7 L586 381.1 L585.5 377.4 L584.1 373.8 L581 372.1 L577.6 370.4"/>
<path d="M590 317.5 L593.4 316.6 L595.5 313.6 L595.5 310.8 L595.9 307.8 L596.8 304.8 L595.4 301.8 L596.1 298.8 L598.1 295.9 L600.7 293.2 L603.1 290.3 L606.5 288.1 L610.6 288.3 L614.3 287.2 L617.7 286.1 L620.9 288.3 L624.2 286.6 L627.5 287.5 L631.1 289.3 L634.9 290.2 L638.8 291.1"/>
<path d="M595.6 313.8 L597.5 316.9 L599.2 320.1 L601 323.3 L601 326.7 L598.6 329.3 L597.8 332.6 L598.1 336.2 L597.2 340 L601.2 341.4 L605 342.9 L607.5 340.4 L609.7 337.8 L610.6 334.3 L613.3 336.5 L616.2 338.1 L618.6 340 L620.6 342.3 L623.4 343.6 L625.6 345.7 L628.5 347.2 L630.6 350 L633.8 351 L636.7 352.6 L633.3 353.6 L631.4 357.1 L634.9 358.9 L638.5 361.1 L642.3 362.5 L646.3 362.1 L649.7 362.4 L652.5 364.2 L655.8 364.9 L659 365.6 L662.2 366 L664.9 368.3 L668.4 370.7 L672.3 372.3 L677 369.6"/>
<path d="M578.8 411.2 L580.1 414.1 L582.1 416.5 L584.7 418.5 L586.4 422.3 L589.6 424.7 L590.8 428.1 L589.5 431.9 L593 434.5 L595.6 437.5 L598.5 439.5 L601.7 439.7 L605.1 439 L608.8 439.2 L612.5 439.4 L616.5 440.8 L620.2 442.8 L623.8 442.9 L627.4 444.4 L631.3 443.5 L634.9 445.6 L638.8 446.8 L641.4 450.2 L641.7 454.3 L640.3 457.4 L639.7 460.6 L639.2 463.9 L636.2 466.4 L635.5 469.7 L634.5 472.9 L634.1 476.8 L631.8 479.7 L629.8 482.8 L625.4 483.2 L622 485.6 L618.3 487.6"/>
<path d="M608.8 441.2 L606.6 443.7 L603.2 445.1 L601.1 447.6 L599.6 450.8 L597 452.9 L593.2 452.4 L590.8 454.7 L588 456 L585.8 458.7 L583.1 460.2 L579.5 460 L576.9 461.9 L574.4 464.8 L570 464.6 L567.4 467.4 L564.2 468.7 L562.5 472.2 L558.5 472.3 L556.5 475.4 L553.1 477.2 L551.6 480.7 L553.4 484.2 L554.3 488.1"/>
<path d="M363.4 516.6 L367 517.5 L370.4 515.4 L373.9 514.8 L377.5 515.7 L380.5 515.1 L383.6 514.9 L386.6 515.2 L389.6 515.1 L392.5 516.2 L395.8 516.3 L399.1 516.5 L402.3 518 L405.6 517.3 L408.7 519.4 L412.3 520.5 L415.1 523 L418.5 522.8 L421.5 524.3 L424.5 525.4 L428.4 525.1 L431.9 523.2 L435.3 525.3 L437.5 528.7 L437.3 532.8 L439.8 536.1 L441.2 538.8 L444.1 539.9 L444.5 543.7 L444.6 547.5 L448 550.1 L450.6 553.1 L453.1 556.3 L455.9 559.1 L459.3 559.8 L461.5 562.4 L464.4 563.5 L467.4 564.5 L470.5 566.5 L473.4 568.7 L476.7 570.4 L479 573.4 L480.3 577.4 L478.7 581.3 L480 585 L477.5 588.2 L474.8 590.9 L471 592.2 L467.2 596 L469 599.3 L471.5 601.7 L469.6 607.6 L472.6 607.6 L475.6 608.6 L478.8 609 L480.8 612.1 L482.7 614.9 L483.9 620.8 L487.2 622.5 L490.6 622 L493.8 622.2 L496.4 625 L500.2 624.5 L503.2 626.1 L506.7 627 L508.8 629.9 L512.5 630.2 L516.2 630.6 L520 630.6 L523.8 630.6 L527.4 628.9 L531.2 629.7 L535.3 629.8 L538.8 631.8 L540.9 635.3 L541.1 639.2 L546.3 641 L549.8 639.6 L553.8 639.5 L556.3 636.9 L559.2 634.9 L561.4 632 L563.7 628.4 L565.4 624.6 L568.6 622.2 L572.4 620.5 L576 621 L578.5 617.8 L581.9 618.1 L584.5 619.6 L587.7 620.2 L585.7 624.1 L585.2 628 L591.2 630.1 L594.4 630.7 L597.5 630.9 L600.6 629.6 L603.8 629.4 L606.9 628.8 L610.1 628.5 L614.2 626.5 L617.7 623.7 L621.2 625.1 L624.8 626.7 L628.9 625.8 L632.6 624.6 L636.1 622.7 L639.9 622"/>
<path d="M469.4 609.4 L466.1 612.2 L461.9 613.3 L461.5 616.4 L458.7 618.6 L459.4 622.5 L459.9 626.3 L463.7 630.1 L461.5 632.5 L460 635.6 L456.6 637.9 L452.4 637.2 L454.1 641.4 L460 643.1 L461.3 646 L462.7 648.8 L462.4 654.5 L458.7 655.7 L456.4 658.4 L452 657.3 L448.6 654.6 L446.3 656.8 L445.3 660.2 L446.6 665.7 L443.7 666.5 L442.2 669.4 L438.8 668.8 L435.6 667.5 L430 668.2 L426.6 671.2 L424.3 674.9"/>
<path d="M428.1 669.4 L429.7 672.1 L432.8 673.7 L434.1 676.6 L437.3 672.9 L435.9 667.4"/>
<path d="M460 626.2 L463.6 624.8 L467.5 624.4 L471.2 623 L475 623.9"/>
<path d="M493.8 556.9 L495 552.8 L497.7 549.5 L498.7 546.4 L499.2 543.2 L499.1 540 L498.2 536.9 L496.8 533.8 L495.6 530.6 L493.4 527.9 L494.1 524 L491.6 521.4 L493.7 518.2 L494 514.9 L491.9 511.2 L493.7 508.1 L496.9 509 L500 509.4 L503.1 508.1 L505.5 504.9 L508.5 502.3 L510.4 505.9 L514.3 506.9 L516.2 510.1 L519.7 510.3 L522.5 512.6 L525.4 514.2 L528.4 516.5 L529.1 520.5 L528.7 523.7 L527.1 527 L527.3 530.6 L529.7 536.2 L525.8 536.5 L523.1 538.8 L520.2 540.5 L518.6 544 L521.9 544.7 L525.6 545.6 L527.6 543.3 L529.7 541.1 L532.4 539.7 L534.9 538 L537.7 535.8 L538.3 532.2 L542.7 528.9 L545.4 530.3 L549 529 L551.8 531.1 L554.9 531.8 L557.9 533 L561.3 532.3 L563.5 530.3 L566.1 528.5 L569.1 527.3 L569.6 523.8 L569.6 520.5 L570.5 517.5 L567.4 515.1 L564.6 512.2 L564.9 507.9 L567.2 504.5 L570.4 502 L574.6 501.1 L578 499 L581.8 498.5 L581.9 493.1 L578.1 494 L574.4 493.3 L571.1 492.2 L568 492.7 L565 493.7 L562 492.2 L559.3 489.9 L555.8 488.9 L555.1 486.2 L555 483 L553.3 480.1"/>
<path d="M617.5 480 L616.2 483.6 L616.4 487.5 L615.3 491.2 L616.5 495.1 L618.7 498.6 L619.9 502.3 L617.5 505.2 L618.9 508.8 L617.2 511.5 L616.8 514.6 L615.8 517.6 L615.9 521.4 L617 525.1 L621.4 526.6"/>
<path d="M640 688.1 L636.4 685.9 L632.4 684.6 L628.8 683.6 L625 683.4 L621.2 682.9 L620.2 686.7 L617.8 690.1 L615.5 693.5 L615.6 697.5 L615.4 701.4 L613.3 704.9"/>
<path d="M623.8 491.2 L626.9 488.1 L627.4 483.7 L628.6 480.6 L630.6 478.2 L632.8 476 L634 473 L634.6 469.6 L636.6 466.8 L637.5 463.5 L639.6 460.7 L641 457.7 L640.7 454.2 L639.1 451.3 L638.7 448.1 L636.3 446.2 L633.5 444.7 L631.1 442.6 L627.5 443.7 L623.8 443.1 L620 442"/>
<path d="M620 526.9 L623.5 527.2 L626.2 529.4 L629.3 530.8 L633.4 530.7 L636.8 528.4 L637.2 524.8 L638.5 521.2 L636.1 518.9 L633.6 516.4 L631.6 513.4 L630.9 509.7 L629.7 505.9 L627 502.7 L625 499.2 L625.6 494.8 L624.2 491.1 L627.5 492.4 L631.2 494 L635.2 494.5 L638.8 496 L642.1 498.6 L646.1 499.1 L649.8 500.4 L653.5 501.3 L657.5 500.3 L660.9 498.3 L664.7 497.2 L668.8 496.9 L672.8 495 L676.5 492.6 L680.1 492.3 L683.8 491.4 L685 495.3 L687.5 498.7 L685.5 501.5 L684.2 504.7 L687.6 504.5 L691.1 502.4 L695.1 503 L698.9 501 L702.4 498.6 L704.4 502.2 L704.6 506.2 L707.5 506.9 L710.6 507.4 L713.8 506.8 L714.6 503.3 L717.5 500.6 L720.7 500.2 L723.7 499.1 L726.8 498.4 L729.5 500.9 L732.8 502 L735.8 503.2 L738.8 504.9 L741.7 506.7 L744.1 508.4 L746.2 510.9 L749.4 511.9 L752.6 513.1 L755.2 515.4 L758.1 516.9 L761.2 516.2 L764.4 515.4 L770.2 517 L770 521.2 L769.8 525 L769.6 528.2 L769.4 531.4 L767.9 534.3 L769.5 540.2 L774.1 541.2 L777.7 543.3 L781.1 542.4 L785 541.8 L788.2 539.4 L790.4 536 L792.7 532.8 L793.8 529 L794.4 525 L793.1 521.3 L796.5 522.6 L799.5 520.7 L802.6 522.1 L805.6 520.9 L808.6 519.9 L812 520.7 L815 519.1 L818.2 522.4 L822.5 523.1 L825.9 525.3 L828.3 528.5 L831.2 527.3 L834.5 526.7 L837.7 525.5 L841.5 525 L845 526.8 L848 525.5 L851.5 526.9 L854.3 524.6 L857.1 522.9 L860.3 521.9 L863.7 522.1 L867.9 521.8 L871.4 519.8 L873.4 513.8 L876.1 515.4 L879.3 515.6 L882.5 514.5 L886 515.5 L888.2 518.9 L891.8 519.6 L894.8 521.1 L895.3 524.7 L897.6 526.8 L900.1 524.3 L903 522 L906 520.4 L909 519 L912.4 519.1 L916.1 518 L920.1 518"/>
<path d="M809.4 423.8 L811.6 426.5 L810.7 430.5 L813.4 433 L815.9 434.7 L817.6 437.6 L820.4 439 L821.4 441.8 L823.1 444.8 L822.5 448.1 L818.8 449.4 L814.9 449.5 L811.5 454 L814 455.3 L815.6 458.4 L819.1 459 L817.1 463.2 L814.7 466.7 L817.3 470.2 L821 472.1 L824.2 472.5 L827.3 473.9 L829.8 476.7 L833.9 479.8 L830.5 479.9 L827.3 480.2 L824.4 482.1 L821.2 482.5 L818.1 480.6 L815 481.7 L812.9 484.3 L809.6 485.1 L807.6 487.7 L804.7 489.9 L802 492.4 L798 492.9 L794.9 494.1 L792.9 496.6 L790.3 498.4 L792 501.9 L791.4 505 L790.7 508.1 L792.5 511.8 L795.9 514.1 L795.1 517.6 L793.7 521.3"/>
<path d="M770 540 L767.6 542.6 L765 545 L762.2 547.2 L758.6 547.8 L755.1 545.4 L751.3 545.4 L747.6 544.4 L743.8 544.2 L740 544.6 L735.7 544.7 L731.5 544 L731.5 547.5 L730.3 551.2 L732.9 556.7 L735.8 556.7 L738.6 558.8 L741.9 558.5 L745.1 559.7 L747.7 561.5 L749.3 564.4 L747.7 570.1 L744 571.5 L741.7 574.2 L739.6 577.1 L738.7 580.4 L737.2 583.2 L734.7 585.3 L731.9 586.9 L729 588.3 L726.9 590.7 L723.9 592 L720.7 592.1 L717.5 592.4 L715.2 594.7 L713.2 597.1 L711.6 599.8 L709.6 602.2 L709 605.6 L705.9 607.3 L705.5 610.8 L703.6 613.7 L702.6 616.9 L700.1 619.3 L699 622.7 L695.5 623.2 L692.2 623.2 L688.9 623.5 L685.6 622.1 L682.3 622.5 L679.1 623.5 L675.8 623.5 L672.5 622.9 L669.5 623.2 L666.5 623.8 L663.6 622 L660.5 622.3 L657.5 622 L654.1 622.6 L651.2 620.7 L648.2 619.3 L644.6 620.1 L641.4 621.1 L638.9 623.9 L635.8 624.9 L632.8 626.3 L629.5 626.6 L626.1 625.2 L623.1 626.6 L620 626.7"/>
<path d="M794.4 536.2 L797.4 538.8 L799.7 542.2 L802 544.9 L804.3 547.8 L805.4 551.4 L808.8 554.2 L813.3 554.6 L812.9 558.8 L812.8 562.5 L813.4 566.2 L815.3 568.5 L817.7 570.6 L819 573.6 L824.5 575.4 L822.9 578.6 L821.5 581.7 L820.9 585.1 L818.9 588 L815.9 589.1 L813 590.5 L810.9 594.1 L807.6 596.4 L805.7 598.8 L802.3 599.4 L800.4 601.8 L798.4 604.1 L798.6 607.1 L797.2 610.1 L796.2 613.1 L795.2 616.2 L796.1 619.6 L794.7 622.6 L792.5 625.1 L791.8 628.2 L790.7 631.2 L788.9 633.8 L785 635.7 L783.3 639.5 L780 638.9 L776.8 639.1 L773.7 638.5"/>
<path d="M813.1 590.6 L815 593.3 L817.3 595.5 L820.7 596.1 L823.7 595.1 L826.9 596.3 L830 595 L833.6 593.6 L837.6 595.8 L841.2 594.3 L844.6 594.6 L847.4 592.9 L850.7 592.9 L851.7 596.2 L852.9 599.9 L851.8 603.6 L848.7 605.6 L851.9 606 L855 606.8 L858.1 605.2 L861.3 605.3 L864.3 604 L867.5 603.8 L871.7 604.7 L875.1 607.3 L877.8 605.7 L880.9 604.1 L880.2 599.8 L881.8 596.2 L882.8 592.6 L886.5 591.1 L889.3 591.8 L891.9 593.5 L893.5 596.6 L897.2 598.5 L901.3 598.1 L905.6 598.9 L908.5 602.3 L911.7 603 L913.9 605.7 L917 606.4 L919.8 607.8"/>
<path d="M920 542.8 L917.6 544.9 L914.1 544.4 L911.9 547 L908.8 547.6 L905.4 548.6 L902.6 550.5 L900.8 553.9 L897.7 555.3 L893.8 556.5 L890 557.5 L886.3 558.9 L883.1 559.8 L880 559.5 L876.9 558.5 L876.7 562.8 L879.2 566.1 L881.8 567.7 L884.7 569.4 L888.3 569.5 L890.8 572.7 L894.9 572.8 L897.4 575.7 L898.3 579.4 L899.2 583.2 L902.2 584.6 L904.5 586.7 L906.8 588.8 L908 592.4 L908.6 596.3 L912.5 600"/>
<path d="M616.2 683.8 L620 684 L623.8 684.2 L626.4 686.2 L629.4 687 L632.5 687.5 L634.9 689.6 L637 691.9 L640.1 693 L642.7 694.7 L646.2 694.6 L649.9 693.3 L653.7 693.6 L657.5 693.6 L661.2 692.3 L665 693.1 L668.7 695 L672.7 696.4 L672.1 700 L673.7 703.1 L672.2 706.2 L670.8 709.8 L670.6 713.7 L673.6 716.9 L674.4 721.3 L678.2 722.3 L681.7 724.5 L685.3 724 L687.8 726.9 L691.1 727.4 L693.3 729.8 L695.6 732.5 L699 734.1 L699.4 738.7 L702.5 741.9 L704.4 745.6 L707.8 747.8 L710.4 753"/>
<path d="M616.2 683.8 L616.4 687.7 L617.7 691.4 L617.2 694.4 L614.7 696.2 L611.9 697.8 L610.9 700.9 L607.3 700.2 L604.5 702.5 L601.2 702.2 L600.3 706.7 L597.5 710 L597.8 714.2 L600.6 717.4 L599.3 720.9 L597.2 723.7 L595.8 727 L593.9 729.8 L591.2 731.3 L588.4 732.8 L587.9 736.5 L589.8 740 L588.3 743.6 L589.7 747.7 L587.8 751.2 L590.5 753.6 L590.9 756.9 L592 759.9 L593.9 762.4 L590.5 764.3 L588.6 767.4 L586.2 769.9 L584.6 773.6 L586.1 777.7 L583.8 781.2 L584.6 785.1 L585.9 788.7 L585.9 792.6 L584.9 795.4 L581.4 796.7 L580.6 799.9 L582.8 802.3 L583.8 805.4 L586.3 807.5 L587.2 811.2 L585.6 815 L586.8 818.8"/>
<path d="M560 751.2 L562.6 749.5 L563.2 746.1 L565.9 744.5 L567.9 742.2 L570 740.2 L572.5 738.5 L574.2 735.8 L576.5 733.9 L580.8 733.7 L584.5 734.7 L588.1 736.4"/>
<path d="M586.2 818.8 L582.5 819.3 L578.7 819.3 L575 819.2 L574 823.1 L571.9 825.7 L569.2 828 L571.9 830.8 L573.2 833.9 L573.3 837.4 L572.2 841.7 L569.5 845.1"/>
<path d="M586.2 818.8 L590.1 818.6 L593.7 820.2 L597.5 820.7 L600.9 820.3 L604 821.9 L607.4 822 L610.7 822.1 L613.5 820.4 L614.1 816.7 L617.3 815.3 L620.4 814.5 L623.8 815.2 L627.7 815.4 L631.4 814.5 L635 813 L637.3 809.8 L640.2 807.1 L642.8 805.2 L644.5 802.6 L646.1 799.9 L650.1 796.4 L653.7 795.5 L657.7 796.2 L661.3 794.6 L663.8 792.6 L667.3 793.1 L669.2 789.7 L672.5 789.7 L676.1 787.1 L679.8 784.8 L684.1 785.1 L687.3 788.2 L691.4 788.2 L693.8 787 L697 786 L698.5 782.8 L694.6 782 L691.3 779.3"/>
<path d="M691.2 653.8 L693.1 656.3 L694.7 659 L696.6 661.5 L698.4 664.2 L698.6 667.4 L699 670.6 L697 673.5 L693.1 673.5 L691.1 676 L690.6 680 L691.8 683.8 L693.1 686.9 L695.8 689.2 L698.8 691.2 L700.8 693.7 L703.8 694.9 L706.4 696.6 L703 699.7 L698.9 700.9 L695.3 702.8 L691.3 702.7 L688.8 704.6 L687.1 707.2 L685.3 709.8 L684.1 713.6 L684 717.6 L685.5 720.1 L687.6 722.4 L689.1 725.2 L691.7 726.9 L694.5 728.2 L696.2 730.9 L698.4 732.9 L701.3 734.5 L701.6 738.1 L704.8 739.7"/>
<path d="M790.6 620 L790.7 623.9 L790.1 627.6 L788.5 631.2 L785.4 632.9 L783.3 635.8 L781.4 638.9 L778.1 637.7 L775 639.2 L771.9 639 L768.2 639.6 L765.4 642.2 L762.4 644.2 L760.7 647 L758.5 649.4 L758.4 652.9 L756.5 655.5 L757 659.5 L757.1 663.3 L758.8 666.9 L758.1 670 L758.6 673.1 L759 676.2 L762.2 676.8 L764.9 679.1 L768.3 679.6 L766.1 683.5 L766.6 687.6 L762.7 686.7 L760.4 684.1 L758.1 680.8 L754.2 680.4 L751 678.5 L747.6 678.1 L744.5 676.8 L742 674.2 L739.7 678 L737.9 681.8 L739.5 684.8 L742.8 686.1 L743.7 689.4 L746 693 L747.2 697 L747.9 700.3 L749 703.5 L751.7 706.1 L750.2 709.4 L750.1 712.5 L750.8 715.6 L750.3 718.8 L748.2 721.1 L746 723.4 L744 726.5 L739.9 727.4 L737.9 730.4 L735.5 732.2 L732.9 733.7 L730.9 736 L728.9 738.3 L728.5 741.7 L727.3 744.8 L724.7 747.4 L724.9 751.5 L723.3 755"/>
<path d="M837.5 710 L834.8 712.5 L832.7 715.7 L829.5 717.6 L826.4 719.6 L823 719.4 L820.1 721 L816.9 721.4 L814.2 718.8 L810.6 718.7 L807.6 717.1 L805.2 714.8 L801.6 713.4 L799.9 710.1 L796.3 712 L792.4 713.5 L790.3 716.6 L787.1 718.3 L785 721.2 L784.5 724.7 L781.6 727.1 L781.7 730.8 L777.8 732.8 L775.9 736.5 L772.8 738.2 L769.5 738.3 L766.2 737.8 L765.4 734.8 L761.4 734 L760.6 730.6 L758.8 733.8 L756.2 736.4 L755.3 740.2 L754.1 743.8 L753.3 747.5 L749.9 747.3 L747.3 749.7 L743.8 748.5 L741.3 751.1 L738.2 751.6 L734.7 752.6 L731.9 755 L729 757.2"/>
<path d="M547.5 760 L548.1 764.3 L549.8 768.3 L546.1 768.3 L543 769.1 L539.9 770 L536.3 769.3 L532.4 769.5 L528.7 768.5 L525.4 768.3 L522.2 767.1 L523.3 771.2 L521.1 775 L522.7 778.8 L521.6 783.5 L518.2 784.4 L514.9 782.9 L511.9 784.4 L508.8 785 L505.5 783.9 L502.5 785.6 L499.8 788.2 L496.9 790.9 L492.7 792.7 L489.2 795.4 L485.6 795.7 L481.9 796.7 L478.3 798.9 L474.5 800.7 L475.4 804.1 L478 807 L483.7 809 L483.4 812.2 L481.4 815.1 L479.7 818 L478.8 821.8 L478.5 825.7 L474.4 826.4 L470.4 825.8 L466.9 827.8 L463.7 828 L460.6 827.4 L457.5 826.3"/>
<path d="M474.4 829.4 L474.1 832.7 L476.6 835.4 L476.6 838.7 L476.6 841.9 L476.1 845 L475.3 848.1 L474.8 851.4 L472.7 853.8 L466.8 853.2"/>
<path d="M585 760 L586.9 763.8 L590.4 765.8 L588.6 769.2 L584.6 770.9 L585.1 775.3 L583.3 778.8 L582.8 782.3 L584.2 785.2 L585.7 788.2 L585.8 791.3 L586.2 794.5 L584.8 797.5 L581.6 801.6 L584.5 802.4 L586.9 804.9 L588.2 808.1 L587.2 811.2 L586.5 814.4 L584.8 819 L581.9 819.4 L578.7 819.3 L575.6 820 L574.6 823.4 L571.8 825.6 L572.6 829.3 L572.5 833.2 L570.4 835.4 L570.1 838.8 L571.7 842.6 L573.5 846.4 L572.1 850.1 L570.3 853.9 L566.4 852.2 L562.6 851.5 L560.8 855.4 L560.4 859.3 L560.3 862.7 L561.4 865.7 L562.3 868.8 L565.4 871.5 L568.3 874.2 L566.8 878 L566.7 882 L568.3 884.6 L569.7 887.7 L568.5 891.1 L568 895 L571.7 893.4 L575.6 893 L576.4 889.3 L577.6 885.7 L580.2 883.5 L583.2 882 L581.7 876.1 L585 875.9 L584.6 880 L584.2 883.8 L585.1 887.5 L586 891.2 L586.4 895.1 L590.6 893.7 L594.4 895 L595.5 891.7 L598.4 889.6 L601.6 891.5 L605.6 891.3 L608.5 894.5 L609.3 898.8 L613.1 899.8 L616.8 900.9 L620.1 901.6 L623.3 902.9 L626.5 904.3 L630 904.4 L633.1 904.9 L635.7 907.1 L639.2 905.8 L641.9 907.9 L645 908 L648.1 909.2 L651.4 907.7 L654.2 910.4 L657.5 909 L660.7 908.5 L663.8 909.7 L666.7 908.8 L669.3 906.8 L672.7 907 L675.7 906 L678.8 905.5"/>
<path d="M585 819.1 L588.8 819 L592.6 819 L596.3 819.7 L599.9 821.3 L603.5 822.5 L607.5 821.9 L609.5 819.4 L613 818.8 L614.9 816.2 L618.6 814.8 L622.3 814 L626.3 814.7 L629.8 816.2 L633.7 816.4 L635.6 813.4 L637.6 810.7 L640.5 809.2 L644 810.6 L646.8 808.6 L647.9 805.7 L649 802.7 L649.1 799.4 L651.8 798 L654.8 796.3 L658.1 795.7 L661.1 794.3 L664.5 795.9 L667.5 794.5 L671.2 793.3 L673.4 789.8 L676.8 788 L679.7 786.2 L683 785.4 L686.1 784 L689.9 784.3 L692.3 787.5 L695.7 787.9"/>
<path d="M510 953.8 L513.5 953.9 L516.8 954.9 L520 956.2 L523.4 956.9 L526.6 958.3 L530 958.9 L533.4 958.8 L536.5 960.8 L540 960.4 L543.2 960.9 L544.4 964.5 L546.8 966.5 L549.8 967.8 L553 966.5 L556 968.4 L559 967.9 L562 966.1 L565 967 L568.9 967 L571.9 964.6 L574.9 962.2 L577.9 960.8 L581.1 960.3 L584.2 959.9 L587.6 960.3 L589.8 958 L592 955.9 L595.3 955.4 L594.1 951.3 L590.8 948.7 L590.4 944.8 L590.9 941.9 L592 938.9 L592.3 935.7 L592.9 932.6 L596.6 931.3 L600.2 929.1 L598 925.9 L597.7 922.4 L593.8 921.2 L590.1 919.7"/>
<path d="M600 928.8 L603.1 928.3 L606.4 929.2 L609.4 928 L612.5 927.2 L615.5 926.1 L618.6 925.3 L621.9 925.6 L624.9 924.5 L627.4 923.3 L629.4 920.8 L632.5 920 L635 918.3 L637.6 916.8 L640.2 915.3 L642.8 913.1 L646.2 914.9 L649 913.4 L652 913.2 L655 912.7"/>
<path d="M550 967.5 L550.1 970.8 L552.3 973.4 L553.2 976.4 L552.8 979.9 L555.5 982.3 L556.3 986 L558 989.3 L560.5 992.3 L561.4 996 L562.9 999.4 L564.6 1002.7 L565.1 1005.9 L562.8 1009 L563.7 1012.5 L566.9 1015 L569.7 1017.8 L573.8 1016.2 L577.5 1017.7 L577.5 1020.7 L578.6 1023.7 L577.4 1027 L578.9 1030 L578.4 1033.3 L577.8 1036.7 L577.2 1040 L580.6 1041.9 L582.6 1044.9 L581.9 1048.4 L580.7 1051.6 L579.6 1054.9 L579.3 1058.5 L576.6 1061.3 L576.4 1065 L577.1 1068.3 L578.5 1071.5 L578.7 1075 L576.2 1078.3 L576.1 1082.4"/>
<path d="M662.5 956.2 L665.3 958.3 L668.8 958.6"/>
<path d="M663.8 992.5 L666.6 994 L668.9 996.1"/>
<path d="M1096.2 438.4 L1100.1 437.7 L1103.8 436.9 L1107.6 435.9 L1111 433.7 L1115.1 435 L1118.8 434.2 L1122.5 435.1 L1126.6 435.1 L1130.1 437.3 L1133.8 436.1 L1137.5 436.6 L1141.2 438 L1145 437.3 L1148.8 436.7 L1152.2 433.8 L1154.7 430.3 L1157.4 427.4 L1160.1 424.5 L1162.8 422.1 L1165.4 419.8 L1167.6 417 L1171.4 414.2 L1174.9 412.6 L1178.8 413.3 L1182.5 412.1 L1186 412 L1188.8 409.2 L1192.1 408.5 L1195.5 407.9 L1199.1 408.2 L1202.5 407.7 L1205.6 406 L1208.7 404.5 L1212.8 404.3 L1216.5 402.9 L1220 401 L1223.3 400.3 L1226.6 400.7 L1227.6 405.6 L1226 408.7 L1223.8 411.3 L1224.3 415.1 L1225.2 418.9 L1228.8 422.2 L1225.1 424.2 L1222.1 426.7 L1219 427.9 L1215.5 426.6 L1212.5 428 L1208.1 429.5 L1205 432.9 L1201.6 436.1 L1198.2 436.6 L1194.9 436.6 L1191.8 437 L1188.7 438.3 L1187.2 441.3 L1185 443.3 L1182.8 445.3 L1179.8 446.6 L1178 449.4 L1175.2 450.9 L1169.5 453 L1168.7 456.9 L1165.4 459.9 L1164.6 463.4 L1161.4 465.3 L1161 469.1 L1157.8 471 L1155.9 474 L1152.8 475.4 L1149.3 476.9 L1147.1 479.9 L1143.6 481.5 L1141.5 484.6 L1137.9 488.5"/>
<path d="M1201.2 435.6 L1201.4 439.6 L1202.9 443.2 L1200.9 447.7"/>
<path d="M1017.5 486.2 L1019.1 482.7 L1018.9 478.6 L1021.5 476.5 L1023.6 474.1 L1025 471.2 L1028.2 472.1 L1031.2 469.9 L1034.4 470.8 L1037.4 471.5 L1040.9 470.2 L1043.9 471.7 L1047.5 472.9 L1051.2 473.7 L1055 472.7 L1059 474.5 L1062.4 477.1 L1066.5 479.4 L1069.7 478.1 L1071.9 475 L1073.8 471.3 L1077.4 469.3 L1081.3 468.6 L1085 467.4 L1088.7 468.3 L1092.6 467.1 L1096.2 468.8 L1097.6 471.6 L1098 475 L1096.1 480.6 L1100 479.9 L1103.7 479.6 L1107.1 482.7 L1111 484.8 L1113.8 488.3"/>
<path d="M1016.6 446.9 L1016.7 450 L1017.8 453.1 L1018 456.2 L1014.9 459.5 L1014.5 463.7 L1015.2 467.8 L1017.7 471.2 L1018.2 475.1 L1018.9 478.9"/>
<path d="M1137.5 488.1 L1141.2 489.1 L1145 488.4 L1148.8 487.9 L1152.4 486.5 L1156.4 485.7 L1160 485.3 L1163.7 486.5 L1167.5 486.4 L1171.5 486.4 L1175.1 484.7 L1177.5 482 L1180.3 480.2"/>
<path d="M1137.5 488.1 L1140.8 490.5 L1143.2 493.7 L1148.7 495.7 L1151.4 493.3 L1152.9 490.2"/>
<path d="M1137.5 488.1 L1139.4 491 L1137.8 494.6 L1139 497.6 L1136.6 500.8 L1135.6 505 L1134.3 509 L1131.5 512.3 L1129.2 515.9 L1127.9 519.9 L1126.1 523.5 L1126.4 527.5 L1120.5 526.1 L1116.9 523.7 L1114.3 525.8 L1113.8 529.3 L1111 531.1 L1107.2 534.7 L1104.3 533.7 L1101.9 531.2 L1101.1 527.9 L1099.3 525 L1097.8 522"/>
<path d="M1114.1 488.1 L1116.9 490.5 L1118.5 493.9 L1115.4 496 L1113.2 499.4 L1109.9 502.3 L1105.5 502.8 L1109.2 505.3"/>
<path d="M1126.2 527.5 L1126 531.4 L1124.3 535 L1126.7 537.4 L1129.8 538.2 L1135.6 536.9"/>
<path d="M1101.9 535 L1102.4 538.7 L1102.7 542.5 L1102.2 546.6 L1100.3 550.1"/>
<path d="M965.6 457.5 L963.2 459.7 L959.7 459.8 L957.4 462.1 L954.3 463.1 L952.1 465.8 L949.3 468.1 L947.2 470.9 L945.5 476.4 L946.7 479.2 L950.2 479.7 L952.8 481.5 L950.3 485.5 L948.5 489.2 L947.7 492.7 L944.9 494.9 L943.3 500.7 L945 504.4 L947.4 507.9 L947.5 511.5 L944.3 514.1 L944.6 517.4 L944.1 521.3 L943.1 525 L941.8 529 L939.1 532.4 L936.4 534.6 L932.5 535.2 L929.8 537.9 L926.9 540 L924.1 542.2 L922.7 545.8"/>
<path d="M907.5 601.9 L911.8 602.6 L915.1 605.3 L919.1 606.7 L922.7 609 L925.9 611 L927.4 614.5 L929.7 617.2 L935.6 617.8"/>
<path d="M945 496.9 L941.6 494.7 L937.6 494.6 L934 497.1 L930 496.8 L928.4 499.8 L926.6 502.7 L923.2 505.7 L922.7 510.1 L920.5 513.7 L918.6 517.4"/>
<path d="M954.4 429.4 L957.8 431.6 L961.8 431.4 L965.7 431.4 L969.4 432.1 L972.8 429.9 L977.1 429.9"/>
<path d="M1018.1 448.1 L1015.9 450.9 L1017 454.6 L1015.8 457.6 L1015.7 460.7 L1015.1 463.8 L1013.9 466.8 L1015.3 470.1 L1017.4 472.4 L1020.4 474.1 L1018.6 477.3 L1018.2 480.5 L1018 483.7 L1015.7 489.2"/>
</g>
</g>
<path d="M463.8 168.8 L475 166 L492.5 170 L510 172.5 L525 175 L540 168.8 L555 166 L567.5 158.8 L580 151 L597.5 141 L606 141 L607.5 148.8 L615 165 L620 173.8 L638.8 181 L637.5 186 L630 192.5 L632.5 202.5 L640 215 L643.8 222.5 L647.5 230 L647.5 242.5 L642.5 248.8 L635 247.5 L630 242.5 L620 243.8 L621 250 L628.8 262.5 L631 277.5 L631 285 L637.5 286 L641 282.5 L650 292.5 L660 298.8 L668.8 297.5 L680 303.8 L682.5 311 L697.5 317.5 L710 323.8 L700 330 L690 340 L683.8 352.5 L681 365 L677.5 370 L691 378.8 L707.5 386 L720 396 L737.5 406 L747.5 405 L760 412.5 L767.5 412.5 L772.5 417.5 L790 422.5 L797.5 420 L807.5 422.5 L817.5 418.8 L832.5 425 L837.5 433.8 L852.5 441 L867.5 442.5 L877.5 448.8 L892.5 447.5 L905 452.5 L917.5 452.5 L925 456 L940 455 L953.8 455 L955 442.5 L951 430 L957.5 415 L956 403.8 L967.5 400 L973.8 397.5 L980 401 L978.8 417.5 L982.5 423.8 L978.8 428.8 L982.5 436 L995 442.5 L1010 445 L1022.5 445 L1032.5 441 L1050 442.5 L1070 441 L1090 440 L1093.8 435 L1091 423.8 L1080 418.8 L1077.5 412.5 L1085 410 L1097.5 408.8 L1112.5 400 L1115 396 L1127.5 387.5 L1135 380 L1149.4 376.1 L1158.8 371.4 L1161.1 368.1 L1168.1 363 L1175.6 358.8 L1182.2 355.5 L1185.9 359.7 L1192.5 360.2 L1200 362.5 L1207.5 364.8 L1212.2 361.1 L1213.1 357.8 L1219.7 354.5 L1225.3 352.2 L1230.9 350.3 L1234.7 353.1 L1237.5 357.3 L1242.2 357.8 L1235.6 362 L1233.8 364.4 L1234.7 369.1 L1238.4 367.2 L1243.1 364.8 L1246.4 364.8 L1247.8 369.1 L1250.2 374.2 L1245.9 377.5 L1241.2 382.2 L1239.4 385.9 L1241.2 387.8 L1245 386.4 L1250.6 385 L1256.2 386.9 L1261.9 388.3 L1267.5 388.3 L1273.1 391.6 L1275.9 394.4 L1274.5 397.2 L1276.4 400.9 L1271.2 404.7 L1265.6 408.9 L1260.9 412.7 L1260.5 416.9 L1263.8 422.5 L1268.4 430.5 L1265.6 432.3 L1260.9 429.1 L1257.2 424.4 L1254.4 423 L1243.1 424.8 L1231.9 426.7 L1227.2 430 L1219.7 434.7 L1211.2 439.4 L1203.8 444.1 L1200 447.8 L1198.8 455 L1200 465 L1193.8 475 L1187 487 L1181.8 491.7 L1180 497.5 L1184.7 502.2 L1181.2 511.5 L1177.7 518.5 L1173 526.7 L1168.3 536 L1165.4 543.6 L1157.8 541.8 L1149.7 539.5 L1142.7 540.1 L1136.2 537.8 L1138 543 L1140.3 550 L1139.2 564 L1136.8 572.2 L1131.6 573.3 L1130.4 579.2 L1128.1 583.8 L1128.7 589.7 L1131 595.5 L1128.7 600.2 L1126.3 603.7 L1122.8 606.6 L1119.3 608.3 L1114.7 605.4 L1111.2 609.5 L1110.6 601.3 L1110 592 L1108.2 585 L1105.3 579.2 L1103.6 573.3 L1102.4 564 L1100.7 555.8 L1099.5 550.6 L1094.8 550 L1089 550.6 L1088.4 556.4 L1084.9 560.5 L1083.2 565.2 L1082.6 571 L1079.7 573.3 L1075 573.3 L1071.5 569.8 L1069.8 568.1 L1067.4 568.7 L1065.1 562.8 L1062.8 555.8 L1062.2 548.8 L1065.1 541.8 L1068.6 537.2 L1073.8 537.2 L1078.5 533.7 L1085.5 532.5 L1089 527.8 L1094.2 526.1 L1096 520.8 L1098.3 515 L1099.5 509.8 L1105.3 510.3 L1108.2 508.6 L1106.5 505.7 L1100.7 502.2 L1092.5 499.2 L1080.8 499.8 L1069.2 500.4 L1054 498.7 L1040 499.2 L1030 497.5 L1015 492.5 L1017.5 485 L1013.8 475 L1012.5 465 L1008.8 462.5 L1006 468.8 L1000 467.5 L990 462.5 L987.5 456 L985 460 L980 461 L972.5 455 L966 451 L965 456 L960 462.5 L955 472.5 L962.5 480 L972.5 487.5 L983.8 493.8 L980 497.5 L967.5 500 L960 507.5 L955 515 L960 522.5 L975 530 L974 540 L971.5 550 L974 556 L977.5 560 L977 565 L983 567 L984.5 569 L982 573 L985 588 L988 600 L988.5 609 L987 612 L988.5 620 L986 619 L985 614 L984 612 L982 618 L979 623 L977 622 L976 610 L974.5 605 L973 614 L972.5 618 L969 621.5 L966 620 L964 617 L961 618 L959 621 L954.5 619.5 L956 612 L959 605 L956 604 L952 600 L949.5 596 L951 600 L954 604 L957 606 L954 610 L950 615 L944 619 L937 621 L930 623 L923 625 L918 629 L914 634 L912.5 640 L915 648 L916 654 L908.8 662.5 L900 672.5 L892.5 680 L880 685 L867.5 688.8 L865 683.8 L857.5 686 L855 691 L861 692.5 L850 700 L840 710 L830 720 L820 732.5 L810 740 L800 747.5 L790 757.5 L775 770 L760 782.5 L755 792.5 L750 800 L732.5 802.5 L720 807.5 L711 820 L706 825 L698.8 822.5 L687.5 830 L678.8 842.5 L676 857.5 L678.8 875 L681 892.5 L685 902.5 L685 910 L682.5 932.5 L673.3 949.3 L668 960 L666 969.3 L667.3 976 L663.3 980 L668.7 980 L669.3 990.7 L669 1004 L668.7 1014.7 L664 1016 L657.3 1014.7 L652 1016.7 L648 1020 L647.3 1025.3 L642.7 1032 L638 1038.7 L636.7 1044 L639.3 1048.7 L646.7 1050 L654 1054 L649.3 1051.3 L641.3 1050.7 L633.3 1052.7 L625.3 1055.3 L618.7 1058 L612.7 1064 L610 1070.7 L609.3 1077.3 L606 1082.7 L598.7 1087.3 L593.3 1090 L588 1092.7 L582.7 1091.3 L576 1087.3 L569.3 1081.3 L562.7 1073.3 L554.7 1064 L550.7 1054.7 L548 1045.3 L546 1036 L544 1028 L542.7 1020 L535 1002.5 L527.5 982.5 L517.5 965 L507.5 950 L498.8 932.5 L492.5 912.5 L486 890 L477.5 867.5 L467.5 847.5 L460 837.5 L458.8 830 L451 815 L443.8 795 L438.8 770 L432.5 745 L427.5 720 L427 710 L423.8 697.5 L420 687.5 L420 677.5 L423.8 667.5 L427.5 652.5 L425.6 645 L423.1 637.5 L419.4 632.5 L418.1 628.1 L421.9 627.5 L418.8 625 L425 621.9 L435 617.5 L425 619.4 L415 618.8 L416.2 613.8 L420.6 610.6 L415 610 L413.8 605 L417.5 603.1 L424.4 601.2 L411.2 600 L403.1 600 L407.5 602.5 L406.2 606.2 L401.9 610 L398.1 615.6 L403.1 617.5 L405.6 621.2 L404.4 627.5 L400 634.4 L395 639.4 L386.2 643.1 L375 647.5 L365 651.2 L356.2 652.5 L348.8 650.6 L340 646.2 L331.2 640.6 L323.8 633.8 L315 623.8 L306.2 615 L298.8 608.8 L293.1 601.9 L291.9 597.5 L294.4 595 L298.1 596.2 L300.6 598.8 L305 597.5 L312.5 595 L320 592.5 L327.5 590 L333.1 588.1 L337.5 583.8 L342.5 577.5 L345.2 573.1 L343.1 571.2 L338.8 575 L331.2 576.2 L322.5 579.4 L315 582.5 L306.2 581.2 L297.5 578.1 L288.8 574.4 L281.2 568.8 L276.2 562.5 L272.5 556.2 L273.1 551.9 L278.8 548.8 L284.4 545.6 L276.2 548.1 L270.6 552.5 L265.6 553.8 L263.8 544.4 L272.5 541.2 L283.1 540.6 L283.1 535 L283.8 528.8 L286.2 530.6 L292.5 530 L302.5 529.4 L311.2 530.6 L317.5 533.1 L326.2 533.1 L330 530.6 L337.5 528.1 L346.2 525.6 L346.9 528.8 L350 530.6 L355 530.6 L358.8 526.9 L363.1 525.6 L361.2 522.5 L361.9 516.2 L360 507.5 L351 492.5 L350 482.5 L336 480 L330 470 L332.5 460 L331 450 L320 448.8 L308.8 442.5 L312.5 430 L323.8 420 L332.5 406 L341 400 L348.8 402.5 L352.5 411 L375 406 L392.5 400 L400 388.8 L407.5 376 L427.5 366 L435 357.5 L445 335 L461 325 L462.5 320 L466 312.5 L475 302.5 L486 292.5 L487.5 282.5 L483.8 272.5 L492.5 263.8 L507.5 257.5 L512.5 251 L505 247.5 L490 245 L488.8 236 L478.8 235 L477.5 228.8 L466 217.5 L472.5 207.5 L466 200 L475 193.8 L462.5 190 L465 185 L458.8 178.8Z" fill="none" stroke="#000" stroke-width="1.7" stroke-linejoin="round"/>
<g class="city" opacity="0.66" fill="#fff" stroke="#fff" stroke-width="20" stroke-linejoin="round" stroke-linecap="round">
<text x="598.5" y="389.3" style="font-family:'Liberation Sans',sans-serif;font-size:30.8px">Delhi</text>
<text x="436.5" y="582.8" style="font-family:'Liberation Sans',sans-serif;font-size:30.8px">Ahmedabad</text>
<text x="985" y="598.3" style="font-family:'Liberation Sans',sans-serif;font-size:30.8px">Kolkāta</text>
<text x="663" y="647.3" style="font-family:'Liberation Sans',sans-serif;font-size:30.8px">Nāgpur</text>
<text x="447.5" y="719.3" style="font-family:'Liberation Sans',sans-serif;font-size:30.8px">Mumbai</text>
<text x="641.5" y="779.3" style="font-family:'Liberation Sans',sans-serif;font-size:30.8px">Hyderābād</text>
<text x="611.5" y="930.8" style="font-family:'Liberation Sans',sans-serif;font-size:30.8px">Bangalore</text>
</g>
<g class="city">
<text x="598.5" y="389.3" style="font-family:'Liberation Sans',sans-serif;font-size:30.8px">Delhi</text>
<text x="436.5" y="582.8" style="font-family:'Liberation Sans',sans-serif;font-size:30.8px">Ahmedabad</text>
<text x="985" y="598.3" style="font-family:'Liberation Sans',sans-serif;font-size:30.8px">Kolkāta</text>
<text x="663" y="647.3" style="font-family:'Liberation Sans',sans-serif;font-size:30.8px">Nāgpur</text>
<text x="447.5" y="719.3" style="font-family:'Liberation Sans',sans-serif;font-size:30.8px">Mumbai</text>
<text x="641.5" y="779.3" style="font-family:'Liberation Sans',sans-serif;font-size:30.8px">Hyderābād</text>
<text x="611.5" y="930.8" style="font-family:'Liberation Sans',sans-serif;font-size:30.8px">Bangalore</text>
</g>
<g fill="#fff" stroke="#000" stroke-width="2">
<circle cx="578" cy="380" r="7.2"/>
<circle cx="416" cy="573.5" r="7.2"/>
<circle cx="964.5" cy="589" r="7.2"/>
<circle cx="642.5" cy="638" r="7.2"/>
<circle cx="427" cy="710" r="7.2"/>
<circle cx="621" cy="770" r="7.2"/>
<circle cx="591" cy="921.5" r="7.2"/>
</g>
<g fill="#333" font-size="22.03px">
<text x="40" y="40">Based on the EASTERN TROPICAL PACIFIC SST</text>
<text x="40" y="66.2">During years with a COOL NINO3</text>
<text x="40" y="92.5">Climatology: 1981-2010</text>
<text x="40" y="1160">Using data from ERA5</text>
</g>
<g fill="#000" font-size="26.7px" font-style="italic" text-anchor="middle">
<text x="1200" y="796">Chance of Exceeding the Median Rainfall</text>
<text x="1200" y="836">Between February to April</text>
</g>
<g fill="#6e6e6e" font-size="19.1px">
<text x="880.5" y="889">LOW CHANCE</text>
<text x="1199.5" y="889" text-anchor="middle">AVERAGE</text>
<text x="1517" y="889" text-anchor="end">HIGH CHANCE</text>
</g>
<g fill="#000" font-size="19.2px" text-anchor="middle">
<text x="976" y="971" textLength="74.6" lengthAdjust="spacingAndGlyphs">10→20%</text>
<text x="1104" y="971" textLength="74.6" lengthAdjust="spacingAndGlyphs">30→40%</text>
<text x="1296" y="971" textLength="74.6" lengthAdjust="spacingAndGlyphs">60→70%</text>
<text x="1424" y="971" textLength="74.6" lengthAdjust="spacingAndGlyphs">80→90%</text>
</g>
<rect x="911.2" y="937.5" width="1.5" height="8" fill="#555"/>
<rect x="975.2" y="937.5" width="1.5" height="8" fill="#555"/>
<rect x="1039.2" y="937.5" width="1.5" height="8" fill="#555"/>
<rect x="1103.2" y="937.5" width="1.5" height="8" fill="#555"/>
<rect x="1167.2" y="937.5" width="1.5" height="8" fill="#555"/>
<rect x="1231.2" y="937.5" width="1.5" height="8" fill="#555"/>
<rect x="1295.2" y="937.5" width="1.5" height="8" fill="#555"/>
<rect x="1359.2" y="937.5" width="1.5" height="8" fill="#555"/>
<rect x="1423.2" y="937.5" width="1.5" height="8" fill="#555"/>
<rect x="1487.2" y="937.5" width="1.5" height="8" fill="#555"/>
<path d="M1116.2 930 L1125.5 930 L1126.2 937.8 L1123.8 941.2 L1120.6 941.9 L1122.5 947.5 L1120.6 951.2 L1117.5 955 L1116.9 961.2 L1116.9 967.5 L1115.6 973 L1115 977.5 L1111.2 978 L1112.5 973.8 L1111.9 970 L1112.5 961.2 L1113 955 L1113.8 950 L1118 948 L1116.9 945 L1115.9 942.5Z" fill="#1976d2" stroke="#000" stroke-width="1.5" stroke-linejoin="round"/>
<path d="M1126.9 956.3 L1126.5 957.4 L1125.6 957.9 L1124.7 957.4 L1124.3 956.3 L1124.7 955.2 L1125.6 954.7 L1126.5 955.2Z" fill="#000" stroke="#000" stroke-width="1.5" stroke-linejoin="round"/>
<path d="M1102.7 999.7 L1108 994.3 L1111.3 999.7 L1110 1005 L1107.3 1008.3 L1103.3 1007Z" fill="#1976d2" stroke="#000" stroke-width="1.5" stroke-linejoin="round"/>
<path d="M1118.8 1054.3 L1118.4 1055.4 L1117.3 1055.8 L1116.2 1055.4 L1115.8 1054.3 L1116.2 1053.2 L1117.3 1052.8 L1118.4 1053.2Z" fill="#fff" stroke="#000" stroke-width="1.5" stroke-linejoin="round"/>
<path d="M1129.4 1085.3 L1129.9 1086.8 L1129.8 1087.6 L1128.9 1087.3 L1128 1086.1 L1127.5 1084.6 L1127.6 1083.8 L1128.5 1084.1Z" fill="#000" stroke="#000" stroke-width="1.5" stroke-linejoin="round"/>
<path d="M1143.5 1091.2 L1142.8 1093.2 L1142.1 1093.9 L1141.7 1093 L1141.9 1090.8 L1142.6 1088.8 L1143.3 1088.1 L1143.7 1089Z" fill="#000" stroke="#000" stroke-width="1.5" stroke-linejoin="round"/>
<path d="M1139.9 1096.3 L1140.3 1098 L1139.8 1099 L1138.6 1098.9 L1137.5 1097.7 L1137.1 1096 L1137.6 1095 L1138.8 1095.1Z" fill="#fff" stroke="#000" stroke-width="1.5" stroke-linejoin="round"/>
<path d="M1150.4 1116.9 L1150.5 1118.1 L1149.6 1119.4 L1148.1 1120.1 L1147 1119.7 L1146.9 1118.5 L1147.8 1117.2 L1149.3 1116.5Z" fill="#fff" stroke="#000" stroke-width="1.5" stroke-linejoin="round"/>
<path d="M1148 1125 L1154 1121.7 L1156.7 1126.3 L1158.7 1131.7 L1156.7 1137 L1154.7 1139 L1152 1133 L1148.7 1129.7Z" fill="#1565c0" stroke="#000" stroke-width="1.5" stroke-linejoin="round"/>
<path d="M424.5 982.5 L424.4 983.3 L424 983.7 L423.6 983.3 L423.5 982.5 L423.6 981.7 L424 981.3 L424.4 981.7Z" fill="#000" stroke="#000" stroke-width="1.5" stroke-linejoin="round"/>
<path d="M433.5 1086 L433.2 1086.4 L432.5 1086.6 L431.8 1086.4 L431.5 1086 L431.8 1085.6 L432.5 1085.4 L433.2 1085.6Z" fill="#000" stroke="#000" stroke-width="1.5" stroke-linejoin="round"/>
<path d="M1118 938L1124.5 938L1122.5 940.5L1119.3 941.5L1120.8 947L1117 950.5L1115.6 956L1115.3 962L1114.6 962L1114.8 955L1115.8 950L1119.3 947.5L1117.8 942Z" fill="#90caf9"/>
<rect x="883.2" y="900.6" width="57.5" height="36.6" fill="#664638" stroke="#111" stroke-width="1.5"/>
<rect x="947.2" y="900.6" width="57.5" height="36.6" fill="#9e6240" stroke="#111" stroke-width="1.5"/>
<rect x="1011.2" y="900.6" width="57.5" height="36.6" fill="#b87d4b" stroke="#111" stroke-width="1.5"/>
<rect x="1075.2" y="900.6" width="57.5" height="36.6" fill="#d4a97b" stroke="#111" stroke-width="1.5"/>
<rect x="1139.2" y="900.6" width="57.5" height="36.6" fill="#ffe0b2" stroke="#111" stroke-width="1.5"/>
<rect x="1203.2" y="900.6" width="57.5" height="36.6" fill="#eef6fe" stroke="#111" stroke-width="1.5"/>
<rect x="1267.2" y="900.6" width="57.5" height="36.6" fill="#bbdefb" stroke="#111" stroke-width="1.5"/>
<rect x="1331.2" y="900.6" width="57.5" height="36.6" fill="#64b5f6" stroke="#111" stroke-width="1.5"/>
<rect x="1395.2" y="900.6" width="57.5" height="36.6" fill="#1976d2" stroke="#111" stroke-width="1.5"/>
<rect x="1459.2" y="900.6" width="57.5" height="36.6" fill="#0d47a1" stroke="#111" stroke-width="1.5"/>
<g id="logo" fill="#ffb347" transform="translate(1380 1110) scale(0.125)">
<path d="M105 120Q200 88 302 82L302 128Q270 205 105 215Z"/>
<path d="M105 298Q250 285 302 178L302 300Q250 375 105 385Z"/>
<path d="M145 470Q260 440 302 345L302 440Q270 500 215 532Z"/>
<path d="M316 82Q420 88 520 120L520 300Q380 290 316 165Z"/>
<path d="M316 245Q380 370 515 385Q512 440 490 470Q370 440 316 335Z"/>
<path d="M316 420Q350 500 402 525Q370 550 316 558Z"/>
</g>
<text x="1460" y="1162" style="font-family:'Liberation Serif',serif;font-size:35.5px" fill="#3b2a4e">Uni<tspan font-weight="bold">SQ</tspan></text>
<path d="M0 0H1600V1200H0ZM3 3V1197H1597V3Z" fill="#fff" fill-rule="evenodd"/>
</svg></body></html>
